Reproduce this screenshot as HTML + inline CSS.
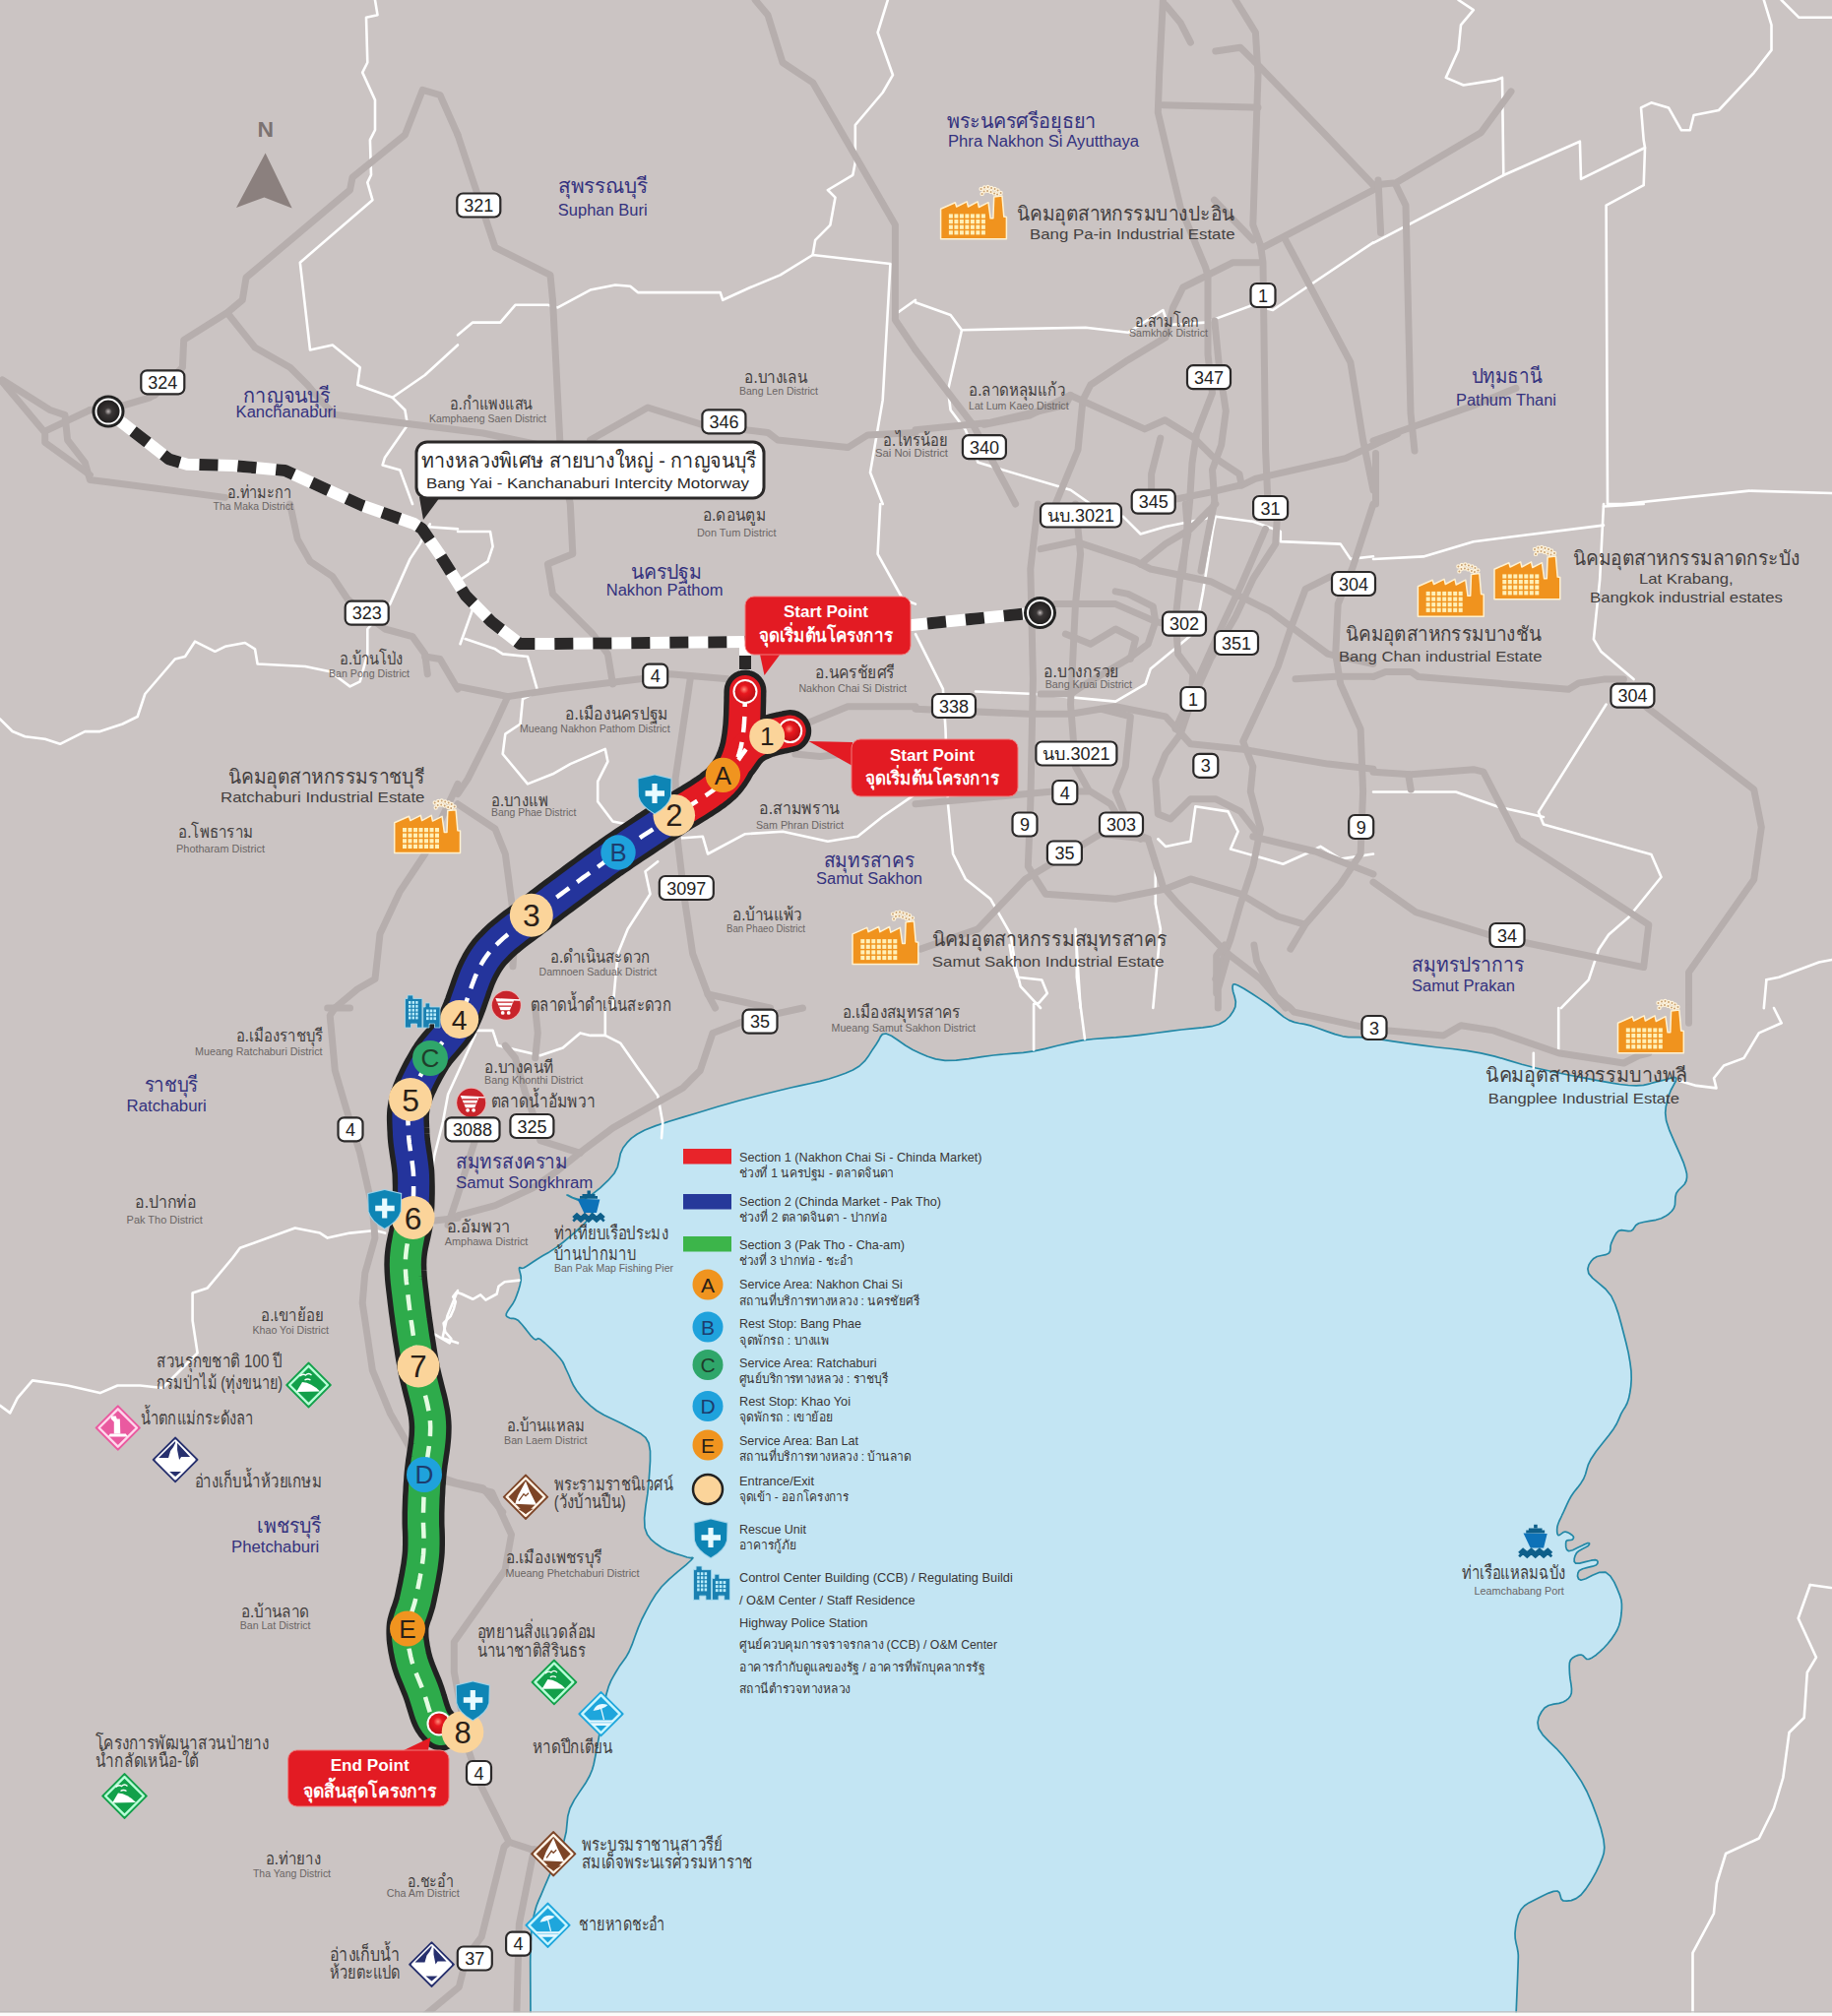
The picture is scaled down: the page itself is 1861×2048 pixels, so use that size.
<!DOCTYPE html><html><head><meta charset="utf-8"><style>
html,body{margin:0;padding:0;background:#cbc4c3;}
svg{display:block;font-family:"Liberation Sans",sans-serif;}
</style></head><body>
<svg width="1861" height="2048" viewBox="0 0 1861 2048">
<defs>
<radialGradient id="rdot" cx="45%" cy="40%" r="60%"><stop offset="0" stop-color="#ff8a7a"/><stop offset="0.35" stop-color="#e8181e"/><stop offset="1" stop-color="#b80e14"/></radialGradient>
<radialGradient id="bdot" cx="50%" cy="50%" r="50%"><stop offset="0" stop-color="#bdb6b6"/><stop offset="0.3" stop-color="#3a3636"/><stop offset="1" stop-color="#1e1c1c"/></radialGradient>
</defs>
<rect width="1861" height="2048" fill="#cbc4c3"/>

<polygon points="539,2070 539,2048 539.0,2048.0 538.9,2034.1 538.8,2014.1 538.7,1992.9 539.0,1976.0 539.6,1964.8 540.4,1956.6 541.5,1949.8 543.0,1943.0 544.8,1936.5 547.0,1930.9 549.7,1924.8 553.0,1917.0 557.6,1906.4 563.2,1893.9 568.8,1881.3 573.0,1870.0 575.2,1860.8 576.0,1852.6 576.8,1844.9 579.0,1837.0 583.3,1828.6 588.9,1820.1 594.6,1811.8 599.0,1804.0 601.6,1797.7 603.1,1792.5 604.3,1786.5 606.0,1778.0 608.3,1765.1 610.8,1749.3 613.4,1733.6 616.0,1721.0 618.4,1712.8 620.8,1707.2 623.3,1702.7 626.0,1698.0 629.0,1693.1 632.3,1688.6 635.7,1683.8 639.0,1678.0 642.1,1670.7 645.1,1662.3 648.3,1653.6 652.0,1645.0 656.3,1636.6 660.9,1628.1 666.1,1619.8 672.0,1612.0 679.6,1604.3 688.5,1596.6 696.7,1589.9 702.0,1585.0 703.9,1582.7 703.5,1582.4 701.3,1582.7 698.0,1582.0 692.8,1580.2 685.8,1578.1 678.4,1575.4 672.0,1572.0 666.6,1568.3 661.6,1564.2 657.6,1559.1 655.0,1552.0 654.6,1542.2 655.9,1530.2 657.8,1517.7 659.0,1506.0 659.8,1495.0 660.5,1484.1 660.5,1474.2 659.0,1466.0 655.7,1460.3 651.1,1456.6 645.4,1453.5 639.0,1450.0 631.4,1445.9 622.5,1441.8 613.6,1437.5 606.0,1433.0 599.9,1428.2 594.6,1423.2 590.0,1418.1 586.0,1413.0 582.7,1407.8 580.2,1402.6 578.1,1397.5 576.0,1393.0 574.3,1389.4 573.1,1386.5 571.6,1383.5 569.0,1380.0 564.7,1375.2 559.1,1369.6 553.6,1364.5 549.3,1360.8 546.9,1359.7 545.5,1360.3 544.4,1361.0 542.3,1360.0 538.8,1356.3 534.6,1350.9 530.2,1345.5 526.6,1341.6 523.8,1339.9 521.4,1339.4 519.5,1339.4 517.8,1339.0 516.3,1338.2 515.0,1337.5 514.2,1336.4 514.3,1334.6 515.7,1331.9 518.0,1328.6 520.7,1324.8 523.0,1320.7 524.9,1315.9 526.8,1310.5 528.3,1305.2 529.2,1300.6 529.2,1296.7 528.4,1293.2 527.6,1290.3 527.4,1288.3 527.9,1287.6 528.7,1287.9 530.0,1288.4 532.0,1288.0 534.6,1286.5 537.7,1284.5 541.4,1282.0 546.0,1279.0 551.6,1275.6 558.0,1271.9 564.9,1267.4 572.0,1262.0 580.5,1254.9 590.2,1246.5 598.3,1238.1 602.0,1231.0 598.4,1225.3 589.8,1220.3 580.7,1216.4 576.0,1214.0 577.1,1214.2 581.5,1216.6 587.6,1218.6 594.0,1218.0 601.1,1213.6 609.6,1206.9 617.7,1199.2 624.0,1192.0 627.4,1185.3 629.0,1178.5 630.3,1171.9 633.0,1166.0 636.9,1160.9 641.3,1156.4 647.1,1152.2 655.0,1148.0 666.1,1143.6 679.6,1139.2 693.9,1134.9 707.0,1131.0 718.4,1127.5 729.0,1124.2 739.6,1121.2 751.0,1118.0 763.7,1114.7 777.3,1111.2 790.7,1108.0 803.0,1105.0 813.9,1102.6 823.8,1100.5 833.1,1098.4 842.0,1096.0 850.6,1093.2 858.9,1090.3 866.4,1087.0 873.0,1083.0 878.4,1077.9 882.8,1071.9 886.6,1065.9 890.0,1061.0 892.6,1056.8 894.4,1053.1 896.4,1050.6 900.0,1050.0 905.5,1052.3 912.2,1056.8 919.7,1062.0 927.3,1066.4 934.7,1069.9 942.3,1073.3 950.5,1075.9 960.0,1077.4 971.3,1077.2 984.1,1075.7 997.1,1073.7 1009.2,1072.0 1019.8,1071.0 1029.6,1070.2 1039.4,1069.3 1050.0,1067.8 1061.8,1065.4 1074.2,1062.3 1086.9,1059.3 1099.2,1056.9 1110.8,1055.5 1122.1,1054.6 1133.5,1053.9 1145.6,1052.8 1159.1,1051.3 1173.4,1049.5 1187.5,1047.7 1200.2,1046.0 1211.4,1044.8 1221.7,1043.9 1230.8,1042.7 1238.4,1040.5 1244.5,1037.0 1249.2,1032.5 1252.6,1027.6 1254.8,1022.8 1255.3,1017.7 1254.1,1012.3 1252.6,1007.4 1252.0,1003.7 1252.2,1001.4 1252.7,1000.0 1254.2,999.8 1257.5,1001.0 1263.5,1004.3 1271.5,1009.3 1280.1,1014.9 1287.6,1020.0 1293.6,1024.5 1299.0,1029.0 1304.1,1033.1 1309.4,1036.4 1314.6,1038.4 1319.6,1039.5 1325.0,1040.4 1331.2,1041.9 1338.8,1044.5 1347.4,1047.6 1356.1,1050.6 1364.0,1052.8 1369.9,1053.7 1374.7,1053.7 1380.3,1053.6 1388.5,1054.2 1400.5,1055.7 1415.1,1057.8 1430.7,1060.1 1445.9,1062.2 1460.5,1064.0 1475.2,1065.5 1489.9,1067.4 1504.4,1069.8 1518.4,1073.1 1532.1,1077.1 1545.9,1081.2 1560.4,1085.0 1576.4,1088.5 1593.3,1092.0 1609.7,1095.2 1624.0,1097.8 1635.6,1099.9 1645.4,1101.5 1654.1,1102.5 1662.1,1102.9 1669.6,1102.3 1676.2,1100.8 1682.2,1099.1 1687.5,1097.8 1692.6,1096.5 1697.2,1095.1 1700.8,1094.4 1702.8,1095.2 1702.4,1098.0 1700.1,1102.3 1697.3,1107.5 1695.2,1113.0 1693.7,1118.4 1692.3,1124.2 1691.7,1130.7 1692.6,1138.5 1696.0,1148.7 1701.2,1160.6 1706.5,1172.3 1710.4,1181.7 1712.4,1188.1 1713.5,1192.5 1713.6,1196.0 1713.0,1199.5 1711.2,1203.0 1708.2,1206.0 1705.1,1209.0 1702.8,1212.2 1701.9,1216.0 1701.7,1220.0 1701.5,1224.0 1700.3,1227.5 1698.1,1230.5 1695.2,1233.2 1691.7,1235.6 1687.5,1237.7 1682.1,1239.3 1675.7,1240.4 1669.5,1241.5 1664.6,1242.8 1661.7,1244.7 1660.2,1246.9 1658.9,1249.0 1657.0,1250.4 1654.1,1250.6 1650.6,1250.1 1647.2,1249.7 1644.3,1250.4 1641.9,1252.7 1639.9,1256.1 1638.1,1259.8 1636.7,1263.1 1636.0,1265.9 1635.9,1268.7 1635.5,1271.2 1634.1,1273.3 1630.9,1274.7 1626.7,1275.5 1622.3,1276.5 1618.9,1278.4 1616.3,1281.3 1614.0,1284.9 1612.9,1289.0 1613.8,1293.6 1617.8,1298.4 1624.1,1303.6 1631.0,1309.5 1636.7,1316.5 1640.7,1325.0 1644.0,1334.6 1646.8,1344.8 1649.4,1354.7 1651.9,1364.5 1654.2,1374.4 1655.9,1384.1 1657.0,1392.9 1657.2,1400.9 1656.7,1408.3 1655.7,1415.0 1654.5,1420.8 1652.9,1425.5 1651.0,1429.2 1648.8,1432.6 1646.8,1436.1 1645.3,1439.6 1643.9,1442.8 1642.2,1446.5 1639.2,1451.4 1634.2,1458.2 1627.8,1466.3 1621.3,1474.6 1616.3,1481.9 1613.4,1487.8 1611.9,1492.8 1610.6,1497.5 1608.7,1502.2 1605.8,1506.9 1602.4,1511.4 1598.9,1515.7 1596.0,1520.0 1593.6,1524.4 1591.5,1528.9 1589.7,1532.9 1588.3,1536.0 1587.5,1537.7 1587.1,1538.3 1586.9,1538.8 1586.4,1540.0 1585.4,1542.2 1584.0,1545.0 1582.8,1548.0 1582.0,1550.7 1581.7,1553.3 1581.7,1556.0 1582.1,1558.3 1582.9,1559.6 1584.2,1559.4 1586.0,1558.1 1588.0,1556.6 1590.0,1556.0 1592.1,1556.6 1594.5,1557.8 1596.6,1559.2 1598.0,1560.5 1598.5,1561.5 1598.4,1562.5 1597.9,1563.3 1597.1,1564.1 1595.7,1564.5 1593.8,1564.6 1591.9,1564.9 1590.9,1565.9 1590.6,1568.2 1590.7,1571.4 1591.6,1574.3 1593.6,1575.7 1597.6,1574.7 1603.1,1572.1 1608.5,1569.4 1612.3,1567.7 1614.1,1567.5 1614.6,1568.1 1614.3,1569.2 1613.2,1570.4 1610.9,1571.8 1607.5,1573.5 1604.0,1575.4 1601.6,1577.5 1600.1,1580.3 1599.2,1583.5 1599.2,1586.4 1600.7,1588.2 1604.6,1588.1 1610.4,1586.7 1616.3,1585.2 1620.4,1584.6 1622.4,1585.3 1623.1,1586.7 1622.8,1588.4 1621.3,1590.0 1617.9,1591.2 1612.7,1592.4 1607.7,1593.7 1604.3,1595.4 1602.9,1598.0 1602.5,1601.1 1603.5,1603.9 1606.0,1605.2 1610.9,1603.7 1617.7,1600.3 1624.9,1597.3 1631.0,1597.1 1635.6,1600.8 1639.7,1607.1 1642.9,1614.2 1645.4,1620.4 1646.9,1625.2 1647.4,1629.6 1647.4,1633.9 1647.1,1638.2 1646.6,1642.6 1645.8,1647.1 1644.6,1651.5 1642.7,1656.0 1640.0,1660.6 1636.7,1665.4 1633.0,1670.0 1629.3,1674.0 1625.5,1677.7 1621.4,1681.2 1617.4,1683.9 1614.1,1685.5 1611.6,1685.3 1609.8,1683.6 1608.0,1681.8 1606.0,1681.0 1603.3,1681.4 1600.3,1682.5 1597.4,1684.2 1595.4,1686.4 1594.4,1689.2 1594.2,1692.7 1594.3,1696.6 1594.5,1700.7 1595.0,1705.4 1595.9,1710.7 1596.5,1715.8 1596.3,1720.0 1595.2,1723.0 1593.4,1725.3 1591.1,1727.2 1588.0,1729.0 1583.7,1730.4 1578.4,1731.2 1573.1,1732.5 1569.0,1735.0 1565.9,1739.0 1563.2,1744.1 1562.0,1749.9 1563.0,1756.0 1567.1,1762.3 1573.6,1769.1 1581.1,1776.3 1588.0,1784.0 1594.2,1792.1 1600.5,1800.7 1606.5,1809.9 1612.0,1820.0 1617.2,1831.9 1622.2,1845.2 1626.4,1858.1 1629.0,1869.0 1629.8,1876.8 1629.2,1882.6 1627.5,1887.9 1625.0,1894.0 1621.3,1901.9 1616.4,1910.7 1611.0,1918.9 1606.0,1925.0 1601.1,1928.6 1596.2,1930.6 1591.6,1931.2 1588.0,1931.0 1586.0,1929.2 1585.1,1925.9 1584.1,1922.7 1582.0,1921.0 1578.1,1921.4 1573.2,1923.1 1568.0,1925.5 1563.0,1928.0 1558.1,1930.4 1553.2,1932.9 1548.6,1936.0 1545.0,1940.0 1542.4,1945.3 1540.7,1951.6 1539.6,1958.1 1539.0,1964.0 1539.2,1969.2 1540.1,1974.1 1541.2,1978.6 1542.0,1983.0 1542.3,1986.2 1542.3,1988.6 1542.2,1991.9 1542.0,1998.0 1541.6,2009.2 1541.0,2023.9 1540.4,2038.2 1540,2048 1540,2070" fill="#c3e5f3" stroke="#2388a6" stroke-width="1.7" stroke-linejoin="round"/>
<g fill="none" stroke="#fff" stroke-width="2.6" stroke-linejoin="round" stroke-linecap="round"><polyline points="381,0 383.5,15.2 372,17.8 373.3,63.5 368.2,73.6 381,101.6 381,132 375.9,142.2 377,177.8 373.3,185.4 378.4,203.2 304.8,266.7 315,355.5 337.8,350.5 365.7,373.3 363.2,391 398.7,403.8 411.4,416.5 414,431.7 391,464.7 388.6,472.4 406.3,477.5 419,512"/>
<polyline points="398.7,403.8 431.7,381 465,350.5"/>
<polyline points="465,340.3 480.2,327.6 508.2,327.6 523.4,309.8 556.4,309.8 566.6,312.4 599.6,294.6 625,289.5 640.2,290.8 647.9,297.1 731.7,297.1 734.2,304.8 762.1,292 792.6,279.4 825.6,259 904.4,268"/>
<polyline points="825.6,259 828.2,243.8 843.4,228.6 848.5,200.6 840.9,193 866.3,177.8 868.8,165 868.8,127 896.7,94 907,76.2 891.6,33 901.8,0"/>
<polyline points="904.4,269 896.7,406.4 884,480 896.7,512"/>
<polyline points="912,317.5 930,304.8"/>
<polyline points="930,307.3 965.6,320 977,335.2 1102.7,332.7 1145.9,337.8 1181.4,315 1186.5,330 1224.6,327.6 1272.8,309.8 1293,315 1395,246.3"/>
<polyline points="977,335.2 963,396.2 965.6,416.5 980.8,436.8 993.5,469.8 1087.5,497.8 1107.8,512"/>
<polyline points="1395,246.8 1527.3,178 1604.9,143.7 1606,181.9 1671,150 1669.7,142.5 1667,109.4 1677.4,104.3 1695,109.4 1708,132.3 1716.8,132.3 1720.6,117 1746,112 1781.7,73.8 1799.5,50.9 1799.5,25.4 1791.8,0"/>
<polyline points="1671,150 1669.7,188.2 1631.6,208.6 1633,512"/>
<polyline points="1527.3,178 1526,78.9 1519.6,81.4 1486.6,86.5 1468.8,78.9 1481.5,50.9 1484,25.4 1496.8,10.2 1481.5,0"/>
<polyline points="1809.6,0 1827.5,17.8 1861,17.8"/>
<polyline points="1633,512 1649.4,512 1776.6,498.6 1861,501"/>
<polyline points="0,730.4 12.7,743 25.4,748.2 45.7,750.7 61,755.8 86.3,743.1 101.6,743.1 124.4,735.5 139.7,728 147.3,705 177.8,669.5 188,667 198,651.7 218.4,661.8 228.6,656.8 248.9,653 259,659.3 261.6,674.5 310,677 335.2,682.2 355.5,697.4 365.7,692.3 373.3,664.4 373.3,639 396.2,613.6 416.5,567.9 426.6,552.6 436.8,532.3"/>
<polyline points="431.7,535 465,537.4"/>
<polyline points="465,540 498,540 500.6,555.2 495.5,570.4 465,590.7"/>
<polyline points="480.2,618.7 467.5,654.2"/>
<polyline points="472.6,649 503,659.3 510.7,664.4 536,667 541.2,684.7 546.3,702.5 531,710 528.5,735.5 513.3,745.6 510.7,766 536,796.4 561.5,786.3 579.3,776.1 614.8,760.9 617.4,773.6 607.2,793.9 607.2,814.2 622.5,834.5 647.9,839.6 658,832"/>
<polyline points="680.9,852.3 713.9,849.8 719,867.5 757,847.2 795.2,844.7 840.9,854.8 871.3,849.8 896.7,829.5 930,806.6"/>
<polyline points="668.2,875.2 655.5,885.3 660.5,908.2 637.7,943.7 627.5,969.1 622.5,1024"/>
<polyline points="894.2,512 891.6,562.8 917,608.5 930,613.6"/>
<polyline points="930.0,644.1 957.9,699.9 960.5,740.6 963.0,816.8 968.1,867.5 980.8,892.9 1006.2,913.3 1026.5,948.8 1031.6,981.8 1036.7,1002.1 1057.0,1024.0"/>
<polyline points="991.0,702.5 1051.9,705.0 1133.2,712.6 1163.6,694.9 1168.7,679.6 1199.2,654.2 1214.4,641.5 1222.1,600.9 1232.2,537.4 1234.8,524.7 1272.8,529.8 1300.8,539.9 1300.8,550.1 1361.7,552.6 1371.9,567.9 1395.0,565.3"/>
<polyline points="1140.8,524.7 1158.6,542.5 1184.0,534.9 1234.8,524.7"/>
<polyline points="1176.3,852.3 1184.0,859.9 1209.4,854.8 1214.4,819.3 1247.5,824.4 1257.6,844.7 1250.0,862.5 1285.5,872.6 1303.3,877.7 1326.2,867.5 1341.4,859.9 1361.7,872.6 1395.0,867.5"/>
<polyline points="1173.8,872.6 1173.8,918.3 1178.9,943.7 1171.3,1024.0"/>
<polyline points="1092.5,943.7 1097.6,1024.0"/>
<polyline points="1395.0,568.0 1445.9,565.4 1496.8,550.2 1629.0,533.6"/>
<polyline points="1629.0,512.0 1625.2,588.3 1618.9,649.4 1626.5,662.1 1659.6,690.1"/>
<polyline points="1631.6,715.5 1562.9,824.9 1568.0,837.6 1677.4,868.1 1687.5,891.0 1654.5,931.7 1634.1,949.5 1623.9,964.8 1613.8,995.3 1585.8,1024.1"/>
<polyline points="1568.0,830.0 1522.2,819.8 1478.9,804.5 1395.0,804.5"/>
<polyline points="1629.0,514.5 1669.7,512.0"/>
<polyline points="1794.4,995.3 1807.1,992.8 1847.8,977.5 1861.0,975.0"/>
<polyline points="1794.4,995.3 1791.8,1024.1"/>
<polyline points="0.0,1427.8 10.2,1435.4 17.8,1420.2 33.0,1402.4 68.6,1407.5 101.6,1415.1 119.4,1407.5 142.2,1407.5 165.1,1410.0 200.6,1374.5 195.6,1341.5 195.6,1313.5 210.8,1308.4 236.2,1278.0 243.8,1267.8 299.7,1247.5 325.1,1252.6 332.7,1257.6 355.5,1252.6 380.9,1250.0 391.1,1252.6"/>
<polyline points="465.0,1311.0 454.6,1336.4 449.5,1359.2 465.0,1364.3"/>
<polyline points="480.2,1046.9 500.6,1046.9 505.6,1062.1 548.8,1072.3 571.7,1064.6 589.4,1049.4 599.6,1051.9 614.8,1051.9 614.8,1024.0"/>
<polyline points="614.8,1051.9 630.1,1059.6 647.9,1085.0 668.2,1112.9 673.2,1140.8 672.0,1156.1"/>
<polyline points="1025.5,960.0 1028.3,976.4 1033.7,992.8 1058.3,995.5 1063.8,1009.1 1055.6,1018.7 1050.1,1020.0 1050.1,1066.4"/>
<polyline points="1093.8,960.0 1093.8,992.8 1102.0,1055.5"/>
<polyline points="1583.2,1024.0 1583.2,1069.8"/>
<polyline points="1557.8,1069.8 1557.8,1085.1"/>
<polyline points="1802.0,1024.0 1809.7,1039.3 1786.8,1049.4 1771.5,1074.9 1751.1,1082.5 1741.0,1095.2 1743.5,1105.4 1723.2,1102.9 1705.4,1097.8"/>
<polyline points="483,1050.7 455.1,1111.8 449.9,1139.7 441.1,1174.7 435.9,1209.6 432.4,1244.5"/>
<polyline points="1838.8,1610 1860,1613"/>
<polyline points="1838.8,1610 1826.7,1644 1845,1683.7 1835.8,1699 1832.7,1745 1817.5,1760 1811.3,1806 1802,1837 1786.9,1867.5 1753.1,1883 1743.9,1913 1740.9,1944 1719.5,1983.8 1719.5,2048"/>
<polyline points="441.8,1355.6 456.7,1364.3 458.4,1360 452.3,1353 450.6,1344.2 457.6,1337.2 461,1329.4 462.8,1322.4 460.2,1317.2 463.7,1312.8 469,1314.5 480.3,1319.8 488.1,1315.4 493.4,1320.7 504.7,1314.5 506.5,1306.7 512.6,1302.3 527.4,1300.6"/></g>
<g fill="none" stroke="#b6aead" stroke-width="7" stroke-linejoin="round" stroke-linecap="round"><polyline points="157.5,401 185.4,373.3 186.7,345.4 231,317.5 246.3,304.8 250,282 355.5,193 358,180.3 411.4,137 429.2,91.4 447,96.5 465,137"/>
<polyline points="231,318 259,353 294.6,373.3 312.4,391 325,406 340,421.6"/>
<polyline points="91.4,416.5 48.3,436.8"/>
<polyline points="91.4,416.5 127,411.4 152.4,403.8 157.5,401"/>
<polyline points="2.5,386 50.8,416.5 66,421.6 68.6,447 86.3,469.8 91.4,487.6 111.7,490 228.6,505.4"/>
<polyline points="2.5,388 45.7,439.4 45.7,449.5 91.4,482.5"/>
<polyline points="338,421 490.7,440 555,453.5"/>
<polyline points="465,137 503,251.4 559,279.4 561.5,304.8 569,452 571,470"/>
<polyline points="767.2,0 780,15.2 795,63.5 825.6,83.8 909.4,228.6 909.4,325 930,355.5"/>
<polyline points="599.6,447 658,414 713.9,431.7 780,439.4 790,447 861.2,454.6 881.5,441.9 930,439.4"/>
<polyline points="930,355.5 988.4,431.7 1021.4,492.7 1031.6,512"/>
<polyline points="1255,0 1275.4,33 1278,76.2 1272.8,228.6 1280.5,248.9 1283,266.7 1285.6,457 1288,512"/>
<polyline points="1184,5 1199,22.9 1209.4,43.2"/>
<polyline points="1234.8,52 1260,48.3 1280.5,68.6 1346.5,137 1395,188"/>
<polyline points="1181.4,106.7 1278,109.2"/>
<polyline points="1283,251.4 1395,193"/>
<polyline points="1305.9,243.8 1371.9,368.2 1384.6,447 1395,497.8"/>
<polyline points="1278,266.7 1252.5,266.7 1201.7,292 1191.6,312.4 1184,342.8 1145.9,365.7 1107.8,391 1100,406.4 1095,457 1072.2,512"/>
<polyline points="1233.5,203.2 1272.8,243.8"/>
<polyline points="930,436.8 1006.2,429.2 1082.4,411.4 1087.5,401.3"/>
<polyline points="1395,188 1418,185.7 1504.4,134.8 1535,92.9"/>
<polyline points="1400,183 1402.6,236.6"/>
<polyline points="1418,188 1428,208.6 1433,419.7 1437,458"/>
<polyline points="1395,447.7 1496.8,412 1540,394.3"/>
<polyline points="1397.5,460.5 1397.5,512"/>
<polyline points="294.6,512 302.2,547.6 315,570.4 337.8,585.6 353,608.5 372,625 391,639 419,646.6 431.7,664.4 434.3,684.7"/>
<polyline points="431.7,667 447,669.5 465,700"/>
<polyline points="465,796.4 431.7,867.5 406.3,905.6 386,948.8 381,994.5 363.2,1004.7 348,1017.4 340.3,1024"/>
<polyline points="571,470 579.3,512 581.8,562.8 556.4,573 561.5,603.4 602.1,644 617.4,664.4 622.5,694.9"/>
<polyline points="465,697.4 515.8,707.6 566.6,700 650.4,689.8 680.9,684.7 739.3,689.8"/>
<polyline points="701.2,689.8 693.6,740.6 686,791.4 688.5,854.8 696.1,918.3 703.7,969.1 719,1009.8 726.6,1024"/>
<polyline points="515.8,707.6 500.6,740.6 475.2,791.4 465,806.6"/>
<polyline points="818,735.5 861.2,717.7 930,717.7"/>
<polyline points="807.8,766 833.2,768.5 856,766"/>
<polyline points="465,816.8 503,842 513.3,867.5 523.4,943.7 521,981.8"/>
<polyline points="896.7,969 930,964"/>
<polyline points="719,1010 782.5,1024"/>
<polyline points="1054.4,512.0 1046.8,578.0 1049.4,689.8 1046.8,816.8 1044.3,880.2 1062.1,908.2 1133.2,913.3 1184.0,903.1 1209.4,892.9 1260.2,908.2 1298.2,931.0 1323.6,938.7"/>
<polyline points="1057.0,557.7 1092.5,550.1 1153.5,570.4 1168.7,578.0 1229.7,590.7 1290.6,621.2 1349.0,664.4 1395.0,674.5"/>
<polyline points="1092.5,512.0 1097.6,562.8 1092.5,613.6 1090.0,664.4 1087.5,715.2 1092.5,778.7 1105.2,801.5"/>
<polyline points="1072.2,613.6 1133.2,613.6 1173.8,631.4 1184.0,633.9"/>
<polyline points="1133.2,600.9 1145.9,603.4 1171.3,616.1 1173.8,631.4 1166.2,654.2 1145.9,669.5 1102.7,694.9 1087.5,705.0 1057.0,705.0"/>
<polyline points="1082.4,644.1 1107.8,654.2 1133.2,639.0 1153.5,649.1 1148.4,669.5"/>
<polyline points="1158.6,573.0 1184.0,552.6 1209.4,537.4 1234.8,512.0"/>
<polyline points="1204.3,512.0 1206.8,542.5 1199.2,583.1 1194.1,628.8 1196.7,664.4 1211.9,684.7 1209.4,715.2 1199.2,745.6 1184.0,766.0 1173.8,791.4 1176.3,826.9 1189.0,832.0 1209.4,811.7 1234.8,811.7 1260.2,824.4 1277.9,847.2"/>
<polyline points="1298.2,512.0 1295.7,552.6 1272.8,588.2 1255.1,626.3 1229.7,669.5 1209.4,715.2 1199.2,740.6"/>
<polyline points="1285.5,537.4 1260.2,595.8 1239.8,639.0 1217.0,689.8 1194.1,740.6"/>
<polyline points="1351.6,585.6 1326.2,598.3 1310.9,639.0 1298.2,677.1 1280.5,715.2 1262.7,753.3 1272.8,778.7 1270.3,804.1 1280.5,842.2 1272.8,880.2 1260.2,918.3 1250.0,953.9 1234.8,994.5"/>
<polyline points="1395.0,512.0 1374.4,575.5 1359.2,613.6 1356.7,664.4 1361.7,694.9 1382.1,740.6 1384.6,804.1 1382.1,867.5 1361.7,898.0 1326.2,938.7 1310.9,964.1"/>
<polyline points="930.0,720.2 1044.3,725.3 1087.5,725.3 1133.2,717.7 1184.0,727.9 1209.4,755.8 1260.2,760.9 1349.0,776.1 1395.0,781.2"/>
<polyline points="1117.9,720.2 1148.4,727.9 1143.3,778.7 1133.2,804.1 1143.3,829.5 1158.6,852.3"/>
<polyline points="930.0,816.8 1069.7,804.1 1107.8,804.1 1128.1,816.8 1143.3,842.2 1166.2,852.3 1181.4,900.6 1196.7,918.3 1247.5,969.1 1280.5,994.5 1305.9,1024.0"/>
<polyline points="993.5,943.7 1041.7,892.9 1117.9,847.2 1166.2,852.3"/>
<polyline points="1272.8,849.8 1336.3,865.0 1395.0,887.9"/>
<polyline points="1247.5,969.1 1237.3,1004.7 1237.3,1024.0"/>
<polyline points="1316.0,689.8 1356.7,687.2 1395.0,687.2"/>
<polyline points="935.1,964.1 993.5,943.7"/>
<polyline points="1395.0,687.5 1407.7,682.4 1433.2,682.4 1440.8,687.5 1593.4,700.2 1603.6,693.9 1629.0,690.1 1649.4,690.1"/>
<polyline points="1672.3,718.1 1781.7,802.0 1789.3,840.2 1781.7,893.6 1715.5,987.7 1715.5,1024.1"/>
<polyline points="1395.0,784.2 1433.2,786.7 1496.8,781.7 1506.9,784.2 1542.5,852.9 1674.8,939.4 1669.7,982.6 1547.6,957.2 1512.0,949.5 1438.2,926.7 1395.0,896.1"/>
<polyline points="1430.6,786.7 1433.2,802.0"/>
<polyline points="340.3,1024.0 335.2,1031.6 340.3,1087.5 353.0,1130.7 365.7,1171.3 378.4,1227.2 380.9,1257.6 370.8,1293.2 368.2,1323.7 378.4,1392.2 396.2,1435.4 416.5,1471.0 421.6,1481.1 431.7,1493.8"/>
<polyline points="332.7,1024.0 355.5,1024.0"/>
<polyline points="441.9,1239.9 465.0,1237.3"/>
<polyline points="441.9,1498.9 465.0,1506.5"/>
<polyline points="815.5,1024.0 757.1,1036.7 724.0,1049.4 711.3,1087.5 693.6,1105.3 622.5,1145.9 592.0,1168.8 566.6,1189.1 541.2,1206.9 503.1,1224.6 465.0,1234.8"/>
<polyline points="543.7,1024.0 546.3,1049.4 543.7,1074.8"/>
<polyline points="513.3,1062.1 523.4,1074.8 533.6,1110.3 541.2,1130.7 548.8,1158.6 589.4,1171.3"/>
<polyline points="465.0,1506.5 490.4,1511.6 510.7,1536.0"/>
<polyline points="1243.9,960.0 1235.7,970.9 1235.7,1009.1"/>
<polyline points="1273.9,960.0 1276.6,976.4 1295.7,1011.9 1309.4,1022.8 1314.8,1028.2 1377.6,1041.9 1391.3,1044.6"/>
<polyline points="1410.3,1046.9 1466.2,1052.0 1484.0,1041.8 1517.1,1046.9 1583.2,1069.8 1649.4,1080.0 1664.7,1072.3 1674.8,1069.8"/>
<polyline points="1715.5,1024.0 1715.5,1039.3"/>
<polyline points="441.9,1498.9 450,1504 499.6,1515.8 519.5,1559 513,1595 461.3,1668 461.3,1698.5 476.5,1779.8 486.7,1810.3 517.1,1871.2 540,1878.9 560,1879"/>
<polyline points="517.1,1871.2 512,1876.3 489.2,1967.7 474,1988 466.3,2018.5 430.8,2048"/>
<polyline points="542.5,1878.9 527.3,1955 524.8,2048"/>
<polyline points="483,1157 463.8,1218 455,1244.5"/>
<polyline points="1181.4,0 1177.6,76.2 1176.3,114.3 1186.5,157.5 1199.2,210.8 1224.6,271.7 1227,280 1227,360.2 1231.5,399.2 1215.5,440.5 1211,470.3 1208.6,509.3 1201.7,580"/>
<polyline points="1233.8,325.9 1238.4,371.7 1245.3,417.6 1240.7,452 1231.5,477.2 1233.8,509.3 1224.7,555.1 1220,580"/>
<polyline points="1000,431.3 1045.9,422.1 1087.1,401.5 1137.6,424.4 1162.8,435.9 1183.4,426.7 1213.2,445.1 1231.5,463.4 1259,481.7 1261.3,493.2 1275.1,486.3 1366.8,465.7 1420,440.5"/>
<polyline points="1259,493.2 1229.3,500.1 1194.9,507"/>
<polyline points="1178.8,445.1 1169.6,481.7 1169.6,497.8"/></g>
<polyline points="110,418 124.5,429.8 148,448 171.7,466.5 190,471.7 237,473 289.6,478 315.8,490 368,513.6 420.6,532 428.5,537 446.8,563.4 473,605 499,631.5 528,654 560,654 757,652" fill="none" stroke="#fff" stroke-width="12" stroke-linejoin="round"/>
<polyline points="110,418 124.5,429.8 148,448 171.7,466.5 190,471.7 237,473 289.6,478 315.8,490 368,513.6 420.6,532 428.5,537 446.8,563.4 473,605 499,631.5 528,654 560,654 757,652" fill="none" stroke="#2a2828" stroke-width="12" stroke-dasharray="19 20" stroke-dashoffset="-32" stroke-linejoin="round"/>
<polyline points="757,652 1056,622" fill="none" stroke="#fff" stroke-width="12"/>
<polyline points="757,652 1056,622" fill="none" stroke="#2a2828" stroke-width="12" stroke-dasharray="19 20" stroke-dashoffset="-30"/>
<polyline points="757,652 757,690" fill="none" stroke="#fff" stroke-width="12"/>
<polyline points="757,652 757,690" fill="none" stroke="#2a2828" stroke-width="12" stroke-dasharray="14 20" stroke-dashoffset="-14"/>
<circle cx="110" cy="418" r="16.5" fill="#222"/><circle cx="110" cy="418" r="12.5" fill="url(#bdot)" stroke="#fff" stroke-width="2"/>
<circle cx="1056.5" cy="622.5" r="16.5" fill="#222"/><circle cx="1056.5" cy="622.5" r="12.5" fill="url(#bdot)" stroke="#fff" stroke-width="2"/>
<g fill="none" stroke-linecap="round" stroke-linejoin="round">
<polyline points="757.0,702.0 756.9,703.9 756.9,706.2 756.8,709.1 756.8,712.2 756.7,715.6 756.6,719.2 756.5,723.0 756.4,726.7 756.2,730.3 756.0,733.8 755.8,737.1 755.5,740.0 755.2,742.7 754.9,745.3 754.6,747.8 754.2,750.3 753.8,752.7 753.4,755.0 753.0,757.3 752.5,759.5 751.9,761.7 751.3,763.8 750.7,765.9 750.0,768.0 749.2,770.1 748.4,772.1 747.6,774.1 746.7,776.0 745.8,777.9 744.8,779.8 743.8,781.6 742.7,783.3 741.6,785.1 740.4,786.8 739.2,788.4 738.0,790.0 736.8,791.5 735.5,792.9 734.3,794.3 733.1,795.6 731.8,796.8 730.4,798.0 729.0,799.2 727.5,800.4 725.8,801.7 724.1,803.1 722.1,804.5 720.0,806.0 717.7,807.6 715.4,809.1 713.0,810.7 710.4,812.3 707.7,813.9 704.9,815.6 702.0,817.4 698.9,819.3 695.7,821.2 692.3,823.3 688.7,825.6 685.0,828.0 681.0,830.6 676.6,833.5 672.0,836.5 667.1,839.7 662.1,843.1 657.0,846.4 651.9,849.9 646.8,853.3 641.8,856.6 636.9,859.9 632.3,863.0 628.0,866.0 623.9,868.8 620.0,871.5 616.3,874.2 612.7,876.7 609.2,879.3 605.8,881.8 602.3,884.2 599.0,886.7 595.6,889.2 592.1,891.7 588.6,894.3 585.0,897.0 581.3,899.8 577.5,902.6 573.6,905.5 569.7,908.4 565.8,911.3 561.9,914.2 558.1,917.2 554.3,920.1 550.5,922.9 546.9,925.7 543.4,928.4 540.0,931.0 536.7,933.5 533.5,935.9 530.4,938.2 527.3,940.5 524.3,942.7 521.4,944.9 518.6,947.1 515.9,949.3 513.3,951.4 510.7,953.6 508.3,955.8 506.0,958.0 503.8,960.2 501.9,962.2 500.0,964.1 498.3,966.0 496.7,967.9 495.2,969.9 493.7,971.9 492.2,974.1 490.7,976.4 489.2,979.0 487.7,981.8 486.0,985.0 484.3,988.6 482.6,992.5 481.0,996.8 479.3,1001.3 477.7,1006.1 476.0,1010.9 474.3,1015.7 472.6,1020.6 470.8,1025.3 468.9,1029.8 467.0,1034.1 465.0,1038.0 462.9,1041.6 460.6,1045.0 458.3,1048.3 455.9,1051.3 453.4,1054.3 450.9,1057.2 448.5,1060.0 446.0,1062.9 443.6,1065.8 441.3,1068.7 439.1,1071.8 437.0,1075.0 435.0,1078.3 433.0,1081.8 431.0,1085.3 429.1,1088.9 427.2,1092.5 425.4,1096.1 423.7,1099.7 422.0,1103.3 420.5,1106.9 419.2,1110.3 418.0,1113.7 417.0,1117.0 416.2,1120.1 415.5,1123.2 415.1,1126.1 414.7,1128.9 414.5,1131.7 414.4,1134.5 414.4,1137.3 414.5,1140.1 414.6,1142.9 414.7,1145.8 414.9,1148.9 415.0,1152.0 415.2,1155.2 415.5,1158.6 415.9,1162.0 416.4,1165.4 416.9,1168.9 417.4,1172.4 418.0,1176.0 418.5,1179.6 419.0,1183.2 419.4,1186.8 419.8,1190.4 420.0,1194.0 420.1,1197.6 420.2,1201.3 420.3,1205.0 420.3,1208.7 420.3,1212.4 420.2,1216.1 420.1,1219.8 420.0,1223.6 419.8,1227.2 419.6,1230.9 419.3,1234.5 419.0,1238.0 418.6,1241.5 418.1,1244.9 417.4,1248.2 416.7,1251.5 416.0,1254.8 415.2,1258.1 414.5,1261.3 413.8,1264.6 413.2,1267.9 412.7,1271.2 412.3,1274.6 412.0,1278.0 411.9,1281.4 411.8,1284.7 411.9,1288.0 412.0,1291.2 412.2,1294.5 412.4,1297.8 412.7,1301.2 413.1,1304.8 413.5,1308.5 414.0,1312.4 414.5,1316.6 415.0,1321.0 415.6,1325.8 416.2,1330.9 417.0,1336.3 417.7,1341.9 418.6,1347.7 419.4,1353.6 420.3,1359.6 421.3,1365.5 422.2,1371.4 423.1,1377.1 424.1,1382.7 425.0,1388.0 426.0,1393.1 427.1,1398.1 428.3,1403.0 429.5,1407.9 430.7,1412.7 431.9,1417.4 433.1,1422.0 434.2,1426.7 435.1,1431.3 436.0,1435.8 436.6,1440.4 437.0,1445.0 437.2,1449.6 437.1,1454.2 436.9,1458.9 436.5,1463.5 436.0,1468.1 435.4,1472.6 434.7,1477.1 434.1,1481.5 433.4,1485.8 432.9,1490.0 432.4,1494.1 432.0,1498.0 431.7,1501.7 431.5,1505.3 431.2,1508.6 431.0,1511.9 430.9,1515.0 430.7,1518.1 430.5,1521.2 430.4,1524.2 430.3,1527.3 430.2,1530.4 430.1,1533.7 430.0,1537.0 430.0,1540.4 430.0,1543.9 430.0,1547.4 430.1,1551.0 430.3,1554.5 430.4,1558.1 430.5,1561.7 430.5,1565.4 430.5,1569.0 430.4,1572.7 430.3,1576.3 430.0,1580.0 429.6,1583.7 429.1,1587.6 428.6,1591.5 427.9,1595.4 427.2,1599.4 426.5,1603.4 425.7,1607.3 425.0,1611.1 424.2,1614.8 423.4,1618.4 422.7,1621.8 422.0,1625.0 421.3,1628.0 420.5,1630.7 419.7,1633.3 418.9,1635.7 418.1,1638.1 417.2,1640.3 416.5,1642.5 415.8,1644.7 415.2,1646.9 414.6,1649.2 414.2,1651.5 414.0,1654.0 413.9,1656.6 413.9,1659.2 414.0,1661.8 414.1,1664.4 414.4,1667.1 414.8,1669.8 415.2,1672.5 415.6,1675.2 416.2,1677.9 416.7,1680.6 417.3,1683.3 418.0,1686.0 418.7,1688.7 419.6,1691.4 420.5,1694.1 421.5,1696.9 422.6,1699.6 423.7,1702.3 424.8,1705.0 425.9,1707.7 427.0,1710.4 428.1,1713.0 429.1,1715.5 430.0,1718.0 430.9,1720.5 431.7,1723.0 432.5,1725.5 433.2,1727.9 434.0,1730.4 434.7,1732.8 435.4,1735.1 436.1,1737.3 436.8,1739.4 437.5,1741.4 438.3,1743.3 439.0,1745.0 439.8,1746.6 440.6,1748.0 441.5,1749.3 442.3,1750.6 443.2,1751.7 444.1,1752.7 444.9,1753.6 445.7,1754.4 446.4,1755.2 447.0,1755.9 447.6,1756.5 448,1757" stroke="#222" stroke-width="43"/>
<polyline points="802.7,742.6 801.6,742.8 800.2,743.1 798.5,743.5 796.6,743.9 794.6,744.3 792.5,744.7 790.3,745.2 788.1,745.7 785.9,746.3 783.8,746.8 781.8,747.4 780.0,748.0 778.3,748.6 776.7,749.2 775.0,749.9 773.4,750.5 771.9,751.2 770.3,751.9 768.8,752.6 767.4,753.4 766.0,754.2 764.6,755.1 763.3,756.0 762.0,757.0 760.8,758.1 759.5,759.3 758.3,760.7 757.1,762.1 756.0,763.6 754.9,765.1 753.8,766.5 752.9,767.9 752.0,769.2 751.2,770.3 750.6,771.3 750,772" stroke="#222" stroke-width="43"/>
<polyline points="419.0,1238.0 418.6,1239.9 418.1,1242.3 417.5,1245.1 416.8,1248.3 416.1,1251.7 415.3,1255.3 414.6,1259.1 413.9,1263.0 413.2,1266.9 412.7,1270.7 412.3,1274.4 412.0,1278.0 411.9,1281.4 411.8,1284.7 411.9,1288.0 412.0,1291.2 412.2,1294.5 412.4,1297.8 412.7,1301.2 413.1,1304.8 413.5,1308.5 414.0,1312.4 414.5,1316.6 415.0,1321.0 415.6,1325.8 416.2,1330.9 417.0,1336.3 417.7,1341.9 418.6,1347.7 419.4,1353.6 420.3,1359.6 421.3,1365.5 422.2,1371.4 423.1,1377.1 424.1,1382.7 425.0,1388.0 426.0,1393.1 427.1,1398.1 428.3,1403.0 429.5,1407.9 430.7,1412.7 431.9,1417.4 433.1,1422.0 434.2,1426.7 435.1,1431.3 436.0,1435.8 436.6,1440.4 437.0,1445.0 437.2,1449.6 437.1,1454.2 436.9,1458.9 436.5,1463.5 436.0,1468.1 435.4,1472.6 434.7,1477.1 434.1,1481.5 433.4,1485.8 432.9,1490.0 432.4,1494.1 432.0,1498.0 431.7,1501.7 431.5,1505.3 431.2,1508.6 431.0,1511.9 430.9,1515.0 430.7,1518.1 430.5,1521.2 430.4,1524.2 430.3,1527.3 430.2,1530.4 430.1,1533.7 430.0,1537.0 430.0,1540.4 430.0,1543.9 430.0,1547.4 430.1,1551.0 430.3,1554.5 430.4,1558.1 430.5,1561.7 430.5,1565.4 430.5,1569.0 430.4,1572.7 430.3,1576.3 430.0,1580.0 429.6,1583.7 429.1,1587.6 428.6,1591.5 427.9,1595.4 427.2,1599.4 426.5,1603.4 425.7,1607.3 425.0,1611.1 424.2,1614.8 423.4,1618.4 422.7,1621.8 422.0,1625.0 421.3,1628.0 420.5,1630.7 419.7,1633.3 418.9,1635.7 418.1,1638.1 417.2,1640.3 416.5,1642.5 415.8,1644.7 415.2,1646.9 414.6,1649.2 414.2,1651.5 414.0,1654.0 413.9,1656.6 413.9,1659.2 414.0,1661.8 414.1,1664.4 414.4,1667.1 414.8,1669.8 415.2,1672.5 415.6,1675.2 416.2,1677.9 416.7,1680.6 417.3,1683.3 418.0,1686.0 418.7,1688.7 419.6,1691.4 420.5,1694.1 421.5,1696.9 422.6,1699.6 423.7,1702.3 424.8,1705.0 425.9,1707.7 427.0,1710.4 428.1,1713.0 429.1,1715.5 430.0,1718.0 430.9,1720.5 431.7,1723.0 432.5,1725.5 433.2,1727.9 434.0,1730.4 434.7,1732.8 435.4,1735.1 436.1,1737.3 436.8,1739.4 437.5,1741.4 438.3,1743.3 439.0,1745.0 439.8,1746.6 440.6,1748.0 441.5,1749.3 442.3,1750.6 443.2,1751.7 444.1,1752.7 444.9,1753.6 445.7,1754.4 446.4,1755.2 447.0,1755.9 447.6,1756.5 448,1757" stroke="#2eab4b" stroke-width="32"/>
<polyline points="685.0,828.0 682.2,829.9 678.6,832.2 674.4,835.0 669.7,838.1 664.6,841.5 659.2,845.1 653.6,848.7 648.1,852.4 642.6,856.1 637.3,859.6 632.4,863.0 628.0,866.0 623.9,868.8 620.0,871.5 616.3,874.2 612.7,876.7 609.2,879.3 605.8,881.8 602.3,884.2 599.0,886.7 595.6,889.2 592.1,891.7 588.6,894.3 585.0,897.0 581.3,899.8 577.5,902.6 573.6,905.5 569.7,908.4 565.8,911.3 561.9,914.2 558.1,917.2 554.3,920.1 550.5,922.9 546.9,925.7 543.4,928.4 540.0,931.0 536.7,933.5 533.5,935.9 530.4,938.2 527.3,940.5 524.3,942.7 521.4,944.9 518.6,947.1 515.9,949.3 513.3,951.4 510.7,953.6 508.3,955.8 506.0,958.0 503.8,960.2 501.9,962.2 500.0,964.1 498.3,966.0 496.7,967.9 495.2,969.9 493.7,971.9 492.2,974.1 490.7,976.4 489.2,979.0 487.7,981.8 486.0,985.0 484.3,988.6 482.6,992.5 481.0,996.8 479.3,1001.3 477.7,1006.1 476.0,1010.9 474.3,1015.7 472.6,1020.6 470.8,1025.3 468.9,1029.8 467.0,1034.1 465.0,1038.0 462.9,1041.6 460.6,1045.0 458.3,1048.3 455.9,1051.3 453.4,1054.3 450.9,1057.2 448.5,1060.0 446.0,1062.9 443.6,1065.8 441.3,1068.7 439.1,1071.8 437.0,1075.0 435.0,1078.3 433.0,1081.8 431.0,1085.3 429.1,1088.9 427.2,1092.5 425.4,1096.1 423.7,1099.7 422.0,1103.3 420.5,1106.9 419.2,1110.3 418.0,1113.7 417.0,1117.0 416.2,1120.1 415.5,1123.2 415.1,1126.1 414.7,1128.9 414.5,1131.7 414.4,1134.5 414.4,1137.3 414.5,1140.1 414.6,1142.9 414.7,1145.8 414.9,1148.9 415.0,1152.0 415.2,1155.2 415.5,1158.6 415.9,1162.0 416.4,1165.4 416.9,1168.9 417.4,1172.4 418.0,1176.0 418.5,1179.6 419.0,1183.2 419.4,1186.8 419.8,1190.4 420.0,1194.0 420.1,1197.7 420.2,1201.7 420.1,1205.9 420.1,1210.1 420.0,1214.4 419.8,1218.6 419.6,1222.7 419.5,1226.5 419.3,1230.0 419.2,1233.2 419.1,1235.9 419,1238" stroke="#24349c" stroke-width="32"/>
<polyline points="757.0,702.0 756.9,703.9 756.9,706.2 756.8,709.1 756.8,712.2 756.7,715.6 756.6,719.2 756.5,723.0 756.4,726.7 756.2,730.3 756.0,733.8 755.8,737.1 755.5,740.0 755.2,742.7 754.9,745.3 754.6,747.8 754.2,750.3 753.8,752.7 753.4,755.0 753.0,757.3 752.5,759.5 751.9,761.7 751.3,763.8 750.7,765.9 750.0,768.0 749.2,770.1 748.4,772.1 747.6,774.1 746.7,776.0 745.8,777.9 744.8,779.8 743.8,781.6 742.7,783.3 741.6,785.1 740.4,786.8 739.2,788.4 738.0,790.0 736.8,791.5 735.5,792.9 734.3,794.3 733.1,795.6 731.8,796.8 730.4,798.0 729.0,799.2 727.5,800.4 725.8,801.7 724.1,803.1 722.1,804.5 720.0,806.0 717.6,807.7 714.7,809.6 711.6,811.6 708.3,813.7 704.8,815.9 701.4,818.0 698.0,820.1 694.7,822.1 691.7,823.9 689.0,825.5 686.7,826.9 685,828" stroke="#e31b23" stroke-width="32"/>
<polyline points="802.7,742.6 801.6,742.8 800.2,743.1 798.5,743.5 796.6,743.9 794.6,744.3 792.5,744.7 790.3,745.2 788.1,745.7 785.9,746.3 783.8,746.8 781.8,747.4 780.0,748.0 778.3,748.6 776.7,749.2 775.0,749.9 773.4,750.5 771.9,751.2 770.3,751.9 768.8,752.6 767.4,753.4 766.0,754.2 764.6,755.1 763.3,756.0 762.0,757.0 760.8,758.1 759.5,759.3 758.3,760.7 757.1,762.1 756.0,763.6 754.9,765.1 753.8,766.5 752.9,767.9 752.0,769.2 751.2,770.3 750.6,771.3 750,772" stroke="#e31b23" stroke-width="32"/>
<polyline points="757.0,702.0 756.9,703.9 756.9,706.2 756.8,709.1 756.8,712.2 756.7,715.6 756.6,719.2 756.5,723.0 756.4,726.7 756.2,730.3 756.0,733.8 755.8,737.1 755.5,740.0 755.2,742.7 754.9,745.3 754.6,747.8 754.2,750.3 753.8,752.7 753.4,755.0 753.0,757.3 752.5,759.5 751.9,761.7 751.3,763.8 750.7,765.9 750.0,768.0 749.2,770.1 748.4,772.1 747.6,774.1 746.7,776.0 745.8,777.9 744.8,779.8 743.8,781.6 742.7,783.3 741.6,785.1 740.4,786.8 739.2,788.4 738.0,790.0 736.8,791.5 735.5,792.9 734.3,794.3 733.1,795.6 731.8,796.8 730.4,798.0 729.0,799.2 727.5,800.4 725.8,801.7 724.1,803.1 722.1,804.5 720.0,806.0 717.6,807.7 714.7,809.6 711.6,811.6 708.3,813.7 704.8,815.9 701.4,818.0 698.0,820.1 694.7,822.1 691.7,823.9 689.0,825.5 686.7,826.9 685,828" stroke="#fff" stroke-width="4.5" stroke-linecap="butt" stroke-dasharray="16 10"/>
<polyline points="685.0,828.0 682.2,829.9 678.6,832.2 674.4,835.0 669.7,838.1 664.6,841.5 659.2,845.1 653.6,848.7 648.1,852.4 642.6,856.1 637.3,859.6 632.4,863.0 628.0,866.0 623.9,868.8 620.0,871.5 616.3,874.2 612.7,876.7 609.2,879.3 605.8,881.8 602.3,884.2 599.0,886.7 595.6,889.2 592.1,891.7 588.6,894.3 585.0,897.0 581.3,899.8 577.5,902.6 573.6,905.5 569.7,908.4 565.8,911.3 561.9,914.2 558.1,917.2 554.3,920.1 550.5,922.9 546.9,925.7 543.4,928.4 540.0,931.0 536.7,933.5 533.5,935.9 530.4,938.2 527.3,940.5 524.3,942.7 521.4,944.9 518.6,947.1 515.9,949.3 513.3,951.4 510.7,953.6 508.3,955.8 506.0,958.0 503.8,960.2 501.9,962.2 500.0,964.1 498.3,966.0 496.7,967.9 495.2,969.9 493.7,971.9 492.2,974.1 490.7,976.4 489.2,979.0 487.7,981.8 486.0,985.0 484.3,988.6 482.6,992.5 481.0,996.8 479.3,1001.3 477.7,1006.1 476.0,1010.9 474.3,1015.7 472.6,1020.6 470.8,1025.3 468.9,1029.8 467.0,1034.1 465.0,1038.0 462.9,1041.6 460.6,1045.0 458.3,1048.3 455.9,1051.3 453.4,1054.3 450.9,1057.2 448.5,1060.0 446.0,1062.9 443.6,1065.8 441.3,1068.7 439.1,1071.8 437.0,1075.0 435.0,1078.3 433.0,1081.8 431.0,1085.3 429.1,1088.9 427.2,1092.5 425.4,1096.1 423.7,1099.7 422.0,1103.3 420.5,1106.9 419.2,1110.3 418.0,1113.7 417.0,1117.0 416.2,1120.1 415.5,1123.2 415.1,1126.1 414.7,1128.9 414.5,1131.7 414.4,1134.5 414.4,1137.3 414.5,1140.1 414.6,1142.9 414.7,1145.8 414.9,1148.9 415.0,1152.0 415.2,1155.2 415.5,1158.6 415.9,1162.0 416.4,1165.4 416.9,1168.9 417.4,1172.4 418.0,1176.0 418.5,1179.6 419.0,1183.2 419.4,1186.8 419.8,1190.4 420.0,1194.0 420.1,1197.7 420.2,1201.7 420.1,1205.9 420.1,1210.1 420.0,1214.4 419.8,1218.6 419.6,1222.7 419.5,1226.5 419.3,1230.0 419.2,1233.2 419.1,1235.9 419,1238" stroke="#fff" stroke-width="4.5" stroke-linecap="butt" stroke-dasharray="16 10"/>
<polyline points="419.0,1238.0 418.6,1239.9 418.1,1242.3 417.5,1245.1 416.8,1248.3 416.1,1251.7 415.3,1255.3 414.6,1259.1 413.9,1263.0 413.2,1266.9 412.7,1270.7 412.3,1274.4 412.0,1278.0 411.9,1281.4 411.8,1284.7 411.9,1288.0 412.0,1291.2 412.2,1294.5 412.4,1297.8 412.7,1301.2 413.1,1304.8 413.5,1308.5 414.0,1312.4 414.5,1316.6 415.0,1321.0 415.6,1325.8 416.2,1330.9 417.0,1336.3 417.7,1341.9 418.6,1347.7 419.4,1353.6 420.3,1359.6 421.3,1365.5 422.2,1371.4 423.1,1377.1 424.1,1382.7 425.0,1388.0 426.0,1393.1 427.1,1398.1 428.3,1403.0 429.5,1407.9 430.7,1412.7 431.9,1417.4 433.1,1422.0 434.2,1426.7 435.1,1431.3 436.0,1435.8 436.6,1440.4 437.0,1445.0 437.2,1449.6 437.1,1454.2 436.9,1458.9 436.5,1463.5 436.0,1468.1 435.4,1472.6 434.7,1477.1 434.1,1481.5 433.4,1485.8 432.9,1490.0 432.4,1494.1 432.0,1498.0 431.7,1501.7 431.5,1505.3 431.2,1508.6 431.0,1511.9 430.9,1515.0 430.7,1518.1 430.5,1521.2 430.4,1524.2 430.3,1527.3 430.2,1530.4 430.1,1533.7 430.0,1537.0 430.0,1540.4 430.0,1543.9 430.0,1547.4 430.1,1551.0 430.3,1554.5 430.4,1558.1 430.5,1561.7 430.5,1565.4 430.5,1569.0 430.4,1572.7 430.3,1576.3 430.0,1580.0 429.6,1583.7 429.1,1587.6 428.6,1591.5 427.9,1595.4 427.2,1599.4 426.5,1603.4 425.7,1607.3 425.0,1611.1 424.2,1614.8 423.4,1618.4 422.7,1621.8 422.0,1625.0 421.3,1628.0 420.5,1630.7 419.7,1633.3 418.9,1635.7 418.1,1638.1 417.2,1640.3 416.5,1642.5 415.8,1644.7 415.2,1646.9 414.6,1649.2 414.2,1651.5 414.0,1654.0 413.9,1656.6 413.9,1659.2 414.0,1661.8 414.1,1664.4 414.4,1667.1 414.8,1669.8 415.2,1672.5 415.6,1675.2 416.2,1677.9 416.7,1680.6 417.3,1683.3 418.0,1686.0 418.7,1688.7 419.6,1691.4 420.5,1694.1 421.5,1696.9 422.6,1699.6 423.7,1702.3 424.8,1705.0 425.9,1707.7 427.0,1710.4 428.1,1713.0 429.1,1715.5 430.0,1718.0 430.9,1720.5 431.7,1723.0 432.5,1725.5 433.2,1727.9 434.0,1730.4 434.7,1732.8 435.4,1735.1 436.1,1737.3 436.8,1739.4 437.5,1741.4 438.3,1743.3 439.0,1745.0 439.8,1746.6 440.6,1748.0 441.5,1749.3 442.3,1750.6 443.2,1751.7 444.1,1752.7 444.9,1753.6 445.7,1754.4 446.4,1755.2 447.0,1755.9 447.6,1756.5 448,1757" stroke="#e4fbe2" stroke-width="4.5" stroke-linecap="butt" stroke-dasharray="16 10"/>
<polyline points="780.0,748.0 779.1,748.4 778.0,748.9 776.6,749.5 775.1,750.1 773.5,750.8 771.8,751.6 770.0,752.4 768.2,753.2 766.5,754.1 764.9,755.0 763.3,756.0 762.0,757.0 760.8,758.1 759.5,759.3 758.3,760.7 757.1,762.1 756.0,763.6 754.9,765.1 753.8,766.5 752.9,767.9 752.0,769.2 751.2,770.3 750.6,771.3 750,772" stroke="#fff" stroke-width="4.5" stroke-linecap="butt" stroke-dasharray="16 10"/>
</g>
<circle cx="757" cy="702.5" r="12.5" fill="#fff"/><circle cx="757" cy="702.5" r="10.5" fill="url(#rdot)"/>
<circle cx="802.7" cy="742.6" r="12.5" fill="#fff"/><circle cx="802.7" cy="742.6" r="10.5" fill="url(#rdot)"/>
<circle cx="779.2" cy="748" r="18" fill="#fbd49a"/><text x="779.2" y="757.4" font-size="26.1" fill="#2a2018" text-anchor="middle">1</text>
<circle cx="734.4" cy="787.4" r="17.7" fill="#f0941f"/><text x="734.4" y="796.6" font-size="25.7" fill="#2a2018" text-anchor="middle">A</text>
<circle cx="684.8" cy="828.3" r="21.3" fill="#fbd49a"/><text x="684.8" y="839.4" font-size="30.9" fill="#2a2018" text-anchor="middle">2</text>
<circle cx="628" cy="866" r="17.7" fill="#1fa2dc"/><text x="628" y="875.2" font-size="25.7" fill="#1d3d6e" text-anchor="middle">B</text>
<circle cx="539.8" cy="929.7" r="22" fill="#fbd49a"/><text x="539.8" y="941.2" font-size="31.9" fill="#2a2018" text-anchor="middle">3</text>
<circle cx="466.7" cy="1035.5" r="19.5" fill="#fbd49a"/><text x="466.7" y="1045.7" font-size="28.3" fill="#2a2018" text-anchor="middle">4</text>
<circle cx="437" cy="1075" r="18" fill="#2fa66a"/><text x="437" y="1084.4" font-size="26.1" fill="#1f3d2a" text-anchor="middle">C</text>
<circle cx="417" cy="1117" r="22" fill="#fbd49a"/><text x="417" y="1128.5" font-size="31.9" fill="#2a2018" text-anchor="middle">5</text>
<circle cx="419.6" cy="1237" r="22" fill="#fbd49a"/><text x="419.6" y="1248.5" font-size="31.9" fill="#2a2018" text-anchor="middle">6</text>
<circle cx="425" cy="1388" r="21.5" fill="#fbd49a"/><text x="425" y="1399.2" font-size="31.2" fill="#2a2018" text-anchor="middle">7</text>
<circle cx="431" cy="1498" r="18" fill="#1fa2dc"/><text x="431" y="1507.4" font-size="26.1" fill="#1d3d6e" text-anchor="middle">D</text>
<circle cx="414" cy="1654.5" r="18" fill="#f0941f"/><text x="414" y="1663.9" font-size="26.1" fill="#2a2018" text-anchor="middle">E</text>
<circle cx="446" cy="1751" r="12.5" fill="#fff"/><circle cx="446" cy="1751" r="10.5" fill="url(#rdot)"/>
<circle cx="470" cy="1759.5" r="21.3" fill="#fbd49a"/><text x="470" y="1770.6" font-size="30.9" fill="#2a2018" text-anchor="middle">8</text>
<g transform="translate(665,807) scale(1.0)"><path d="M-17.5,-16.5 L0,-20.5 L17.5,-16.5 L17,2 Q14.5,12.5 0,20.5 Q-14.5,12.5 -17,2 Z" fill="#9fd2e8"/><path d="M-16.5,-15.6 L0,-19.5 L16.5,-15.6 L16,2 Q13.5,11.8 0,19.3 Q-13.5,11.8 -16,2 Z" fill="#0e85b5"/><rect x="-2.6" y="-11" width="5.2" height="20" fill="#e8fbff"/><rect x="-9.5" y="-3.8" width="19.5" height="5.6" fill="#e8fbff"/></g>
<g transform="translate(390.7,1228.5) scale(1.0)"><path d="M-17.5,-16.5 L0,-20.5 L17.5,-16.5 L17,2 Q14.5,12.5 0,20.5 Q-14.5,12.5 -17,2 Z" fill="#9fd2e8"/><path d="M-16.5,-15.6 L0,-19.5 L16.5,-15.6 L16,2 Q13.5,11.8 0,19.3 Q-13.5,11.8 -16,2 Z" fill="#0e85b5"/><rect x="-2.6" y="-11" width="5.2" height="20" fill="#e8fbff"/><rect x="-9.5" y="-3.8" width="19.5" height="5.6" fill="#e8fbff"/></g>
<g transform="translate(480.3,1728) scale(1.0)"><path d="M-17.5,-16.5 L0,-20.5 L17.5,-16.5 L17,2 Q14.5,12.5 0,20.5 Q-14.5,12.5 -17,2 Z" fill="#9fd2e8"/><path d="M-16.5,-15.6 L0,-19.5 L16.5,-15.6 L16,2 Q13.5,11.8 0,19.3 Q-13.5,11.8 -16,2 Z" fill="#0e85b5"/><rect x="-2.6" y="-11" width="5.2" height="20" fill="#e8fbff"/><rect x="-9.5" y="-3.8" width="19.5" height="5.6" fill="#e8fbff"/></g>
<g transform="translate(411.5,1011) scale(1.0)"><path d="M0,3.5 L2.5,3.5 L2.5,0 L8.2,0 L8.2,3.5 L17.4,3.5 L17.4,33 L12,33 L12,29 L6,29 L6,33 L0,33 Z" fill="#1a80b1" stroke="#a8dcef" stroke-width="0.8"/><path d="M18.2,12 L20.6,12 L20.6,8 L25.2,8 L25.2,12 L35.5,12 L35.5,33 L30,33 L30,29 L24.5,29 L24.5,33 L18.2,33 Z" fill="#1a80b1" stroke="#a8dcef" stroke-width="0.8"/><rect x="3.5" y="6.0" width="2.4" height="2.8" fill="#b9ecfb"/><rect x="7.1" y="6.0" width="2.4" height="2.8" fill="#b9ecfb"/><rect x="10.7" y="6.0" width="2.4" height="2.8" fill="#b9ecfb"/><rect x="3.5" y="9.9" width="2.4" height="2.8" fill="#b9ecfb"/><rect x="7.1" y="9.9" width="2.4" height="2.8" fill="#b9ecfb"/><rect x="10.7" y="9.9" width="2.4" height="2.8" fill="#b9ecfb"/><rect x="3.5" y="13.8" width="2.4" height="2.8" fill="#b9ecfb"/><rect x="7.1" y="13.8" width="2.4" height="2.8" fill="#b9ecfb"/><rect x="10.7" y="13.8" width="2.4" height="2.8" fill="#b9ecfb"/><rect x="3.5" y="17.7" width="2.4" height="2.8" fill="#b9ecfb"/><rect x="7.1" y="17.7" width="2.4" height="2.8" fill="#b9ecfb"/><rect x="10.7" y="17.7" width="2.4" height="2.8" fill="#b9ecfb"/><rect x="3.5" y="21.6" width="2.4" height="2.8" fill="#b9ecfb"/><rect x="7.1" y="21.6" width="2.4" height="2.8" fill="#b9ecfb"/><rect x="10.7" y="21.6" width="2.4" height="2.8" fill="#b9ecfb"/><rect x="21.5" y="14.5" width="2.6" height="2.8" fill="#b9ecfb"/><rect x="25.2" y="14.5" width="2.6" height="2.8" fill="#b9ecfb"/><rect x="28.9" y="14.5" width="2.6" height="2.8" fill="#b9ecfb"/><rect x="21.5" y="18.4" width="2.6" height="2.8" fill="#b9ecfb"/><rect x="25.2" y="18.4" width="2.6" height="2.8" fill="#b9ecfb"/><rect x="28.9" y="18.4" width="2.6" height="2.8" fill="#b9ecfb"/><rect x="21.5" y="22.3" width="2.6" height="2.8" fill="#b9ecfb"/><rect x="25.2" y="22.3" width="2.6" height="2.8" fill="#b9ecfb"/><rect x="28.9" y="22.3" width="2.6" height="2.8" fill="#b9ecfb"/></g>
<g transform="translate(514.3,1021.3)"><circle r="15.3" fill="#f2b3b3"/><circle r="14.5" fill="#c8242b"/><path d="M-11,-7.2 L14,-6 L13.5,-4.6 L7.6,-4.9 L3.6,5 L-5.8,5 Z" fill="#fff"/><path d="M-9.5,-3.2 L6.5,-3.2 M-8,0.9 L5,0.9" stroke="#c8242b" stroke-width="1.3"/><circle cx="-3.6" cy="7.6" r="1.9" fill="#fff"/><circle cx="2.4" cy="7.6" r="1.9" fill="#fff"/></g>
<g transform="translate(478.7,1120.2)"><circle r="15.3" fill="#f2b3b3"/><circle r="14.5" fill="#c8242b"/><path d="M-11,-7.2 L14,-6 L13.5,-4.6 L7.6,-4.9 L3.6,5 L-5.8,5 Z" fill="#fff"/><path d="M-9.5,-3.2 L6.5,-3.2 M-8,0.9 L5,0.9" stroke="#c8242b" stroke-width="1.3"/><circle cx="-3.6" cy="7.6" r="1.9" fill="#fff"/><circle cx="2.4" cy="7.6" r="1.9" fill="#fff"/></g>
<g transform="translate(955.6,176.4)"><path d="M0,66.4 L0,35.8 L14.8,29.3 L16.1,33.6 L26.6,28.4 L27.9,33.6 L37.5,28.4 L38.8,34.1 L48.4,29.3 L50.6,45.4 L53.3,45.4 L54.1,23.6 L62.4,22.7 L64.2,43.7 L66.8,44.1 L66.8,66.4 Z" fill="#f0931e" stroke="#fff1d0" stroke-width="1.5" stroke-linejoin="round"/><circle cx="41" cy="15.5" r="1.6" fill="#c8a070" stroke="#fff4dc" stroke-width="1.2"/><circle cx="44.5" cy="14" r="1.6" fill="#c8a070" stroke="#fff4dc" stroke-width="1.2"/><circle cx="48" cy="13.5" r="1.6" fill="#c8a070" stroke="#fff4dc" stroke-width="1.2"/><circle cx="51.5" cy="14.5" r="1.6" fill="#c8a070" stroke="#fff4dc" stroke-width="1.2"/><circle cx="55" cy="15.5" r="1.6" fill="#c8a070" stroke="#fff4dc" stroke-width="1.2"/><circle cx="58" cy="17" r="1.6" fill="#c8a070" stroke="#fff4dc" stroke-width="1.2"/><circle cx="61" cy="19.5" r="1.6" fill="#c8a070" stroke="#fff4dc" stroke-width="1.2"/><circle cx="44" cy="18" r="1.6" fill="#c8a070" stroke="#fff4dc" stroke-width="1.2"/><circle cx="47.5" cy="17.5" r="1.6" fill="#c8a070" stroke="#fff4dc" stroke-width="1.2"/><circle cx="51" cy="18.5" r="1.6" fill="#c8a070" stroke="#fff4dc" stroke-width="1.2"/><circle cx="54.5" cy="20" r="1.6" fill="#c8a070" stroke="#fff4dc" stroke-width="1.2"/><circle cx="57.5" cy="21" r="1.6" fill="#c8a070" stroke="#fff4dc" stroke-width="1.2"/><circle cx="42" cy="20.5" r="1.6" fill="#c8a070" stroke="#fff4dc" stroke-width="1.2"/><rect x="8.3" y="41.0" width="4" height="4.2" fill="#fff0b8"/><rect x="13.8" y="41.0" width="4" height="4.2" fill="#fff0b8"/><rect x="19.3" y="41.0" width="4" height="4.2" fill="#fff0b8"/><rect x="24.8" y="41.0" width="4" height="4.2" fill="#fff0b8"/><rect x="30.3" y="41.0" width="4" height="4.2" fill="#fff0b8"/><rect x="35.8" y="41.0" width="4" height="4.2" fill="#fff0b8"/><rect x="41.3" y="41.0" width="4" height="4.2" fill="#fff0b8"/><rect x="8.3" y="46.6" width="4" height="4.2" fill="#fff0b8"/><rect x="13.8" y="46.6" width="4" height="4.2" fill="#fff0b8"/><rect x="19.3" y="46.6" width="4" height="4.2" fill="#fff0b8"/><rect x="24.8" y="46.6" width="4" height="4.2" fill="#fff0b8"/><rect x="30.3" y="46.6" width="4" height="4.2" fill="#fff0b8"/><rect x="35.8" y="46.6" width="4" height="4.2" fill="#fff0b8"/><rect x="41.3" y="46.6" width="4" height="4.2" fill="#fff0b8"/><rect x="8.3" y="52.2" width="4" height="4.2" fill="#fff0b8"/><rect x="13.8" y="52.2" width="4" height="4.2" fill="#fff0b8"/><rect x="19.3" y="52.2" width="4" height="4.2" fill="#fff0b8"/><rect x="24.8" y="52.2" width="4" height="4.2" fill="#fff0b8"/><rect x="30.3" y="52.2" width="4" height="4.2" fill="#fff0b8"/><rect x="35.8" y="52.2" width="4" height="4.2" fill="#fff0b8"/><rect x="41.3" y="52.2" width="4" height="4.2" fill="#fff0b8"/><rect x="8.3" y="57.8" width="4" height="4.2" fill="#fff0b8"/><rect x="13.8" y="57.8" width="4" height="4.2" fill="#fff0b8"/><rect x="19.3" y="57.8" width="4" height="4.2" fill="#fff0b8"/><rect x="24.8" y="57.8" width="4" height="4.2" fill="#fff0b8"/><rect x="30.3" y="57.8" width="4" height="4.2" fill="#fff0b8"/><rect x="35.8" y="57.8" width="4" height="4.2" fill="#fff0b8"/><rect x="41.3" y="57.8" width="4" height="4.2" fill="#fff0b8"/></g>
<g transform="translate(400.7,800.0)"><path d="M0,66.4 L0,35.8 L14.8,29.3 L16.1,33.6 L26.6,28.4 L27.9,33.6 L37.5,28.4 L38.8,34.1 L48.4,29.3 L50.6,45.4 L53.3,45.4 L54.1,23.6 L62.4,22.7 L64.2,43.7 L66.8,44.1 L66.8,66.4 Z" fill="#f0931e" stroke="#fff1d0" stroke-width="1.5" stroke-linejoin="round"/><circle cx="41" cy="15.5" r="1.6" fill="#c8a070" stroke="#fff4dc" stroke-width="1.2"/><circle cx="44.5" cy="14" r="1.6" fill="#c8a070" stroke="#fff4dc" stroke-width="1.2"/><circle cx="48" cy="13.5" r="1.6" fill="#c8a070" stroke="#fff4dc" stroke-width="1.2"/><circle cx="51.5" cy="14.5" r="1.6" fill="#c8a070" stroke="#fff4dc" stroke-width="1.2"/><circle cx="55" cy="15.5" r="1.6" fill="#c8a070" stroke="#fff4dc" stroke-width="1.2"/><circle cx="58" cy="17" r="1.6" fill="#c8a070" stroke="#fff4dc" stroke-width="1.2"/><circle cx="61" cy="19.5" r="1.6" fill="#c8a070" stroke="#fff4dc" stroke-width="1.2"/><circle cx="44" cy="18" r="1.6" fill="#c8a070" stroke="#fff4dc" stroke-width="1.2"/><circle cx="47.5" cy="17.5" r="1.6" fill="#c8a070" stroke="#fff4dc" stroke-width="1.2"/><circle cx="51" cy="18.5" r="1.6" fill="#c8a070" stroke="#fff4dc" stroke-width="1.2"/><circle cx="54.5" cy="20" r="1.6" fill="#c8a070" stroke="#fff4dc" stroke-width="1.2"/><circle cx="57.5" cy="21" r="1.6" fill="#c8a070" stroke="#fff4dc" stroke-width="1.2"/><circle cx="42" cy="20.5" r="1.6" fill="#c8a070" stroke="#fff4dc" stroke-width="1.2"/><rect x="8.3" y="41.0" width="4" height="4.2" fill="#fff0b8"/><rect x="13.8" y="41.0" width="4" height="4.2" fill="#fff0b8"/><rect x="19.3" y="41.0" width="4" height="4.2" fill="#fff0b8"/><rect x="24.8" y="41.0" width="4" height="4.2" fill="#fff0b8"/><rect x="30.3" y="41.0" width="4" height="4.2" fill="#fff0b8"/><rect x="35.8" y="41.0" width="4" height="4.2" fill="#fff0b8"/><rect x="41.3" y="41.0" width="4" height="4.2" fill="#fff0b8"/><rect x="8.3" y="46.6" width="4" height="4.2" fill="#fff0b8"/><rect x="13.8" y="46.6" width="4" height="4.2" fill="#fff0b8"/><rect x="19.3" y="46.6" width="4" height="4.2" fill="#fff0b8"/><rect x="24.8" y="46.6" width="4" height="4.2" fill="#fff0b8"/><rect x="30.3" y="46.6" width="4" height="4.2" fill="#fff0b8"/><rect x="35.8" y="46.6" width="4" height="4.2" fill="#fff0b8"/><rect x="41.3" y="46.6" width="4" height="4.2" fill="#fff0b8"/><rect x="8.3" y="52.2" width="4" height="4.2" fill="#fff0b8"/><rect x="13.8" y="52.2" width="4" height="4.2" fill="#fff0b8"/><rect x="19.3" y="52.2" width="4" height="4.2" fill="#fff0b8"/><rect x="24.8" y="52.2" width="4" height="4.2" fill="#fff0b8"/><rect x="30.3" y="52.2" width="4" height="4.2" fill="#fff0b8"/><rect x="35.8" y="52.2" width="4" height="4.2" fill="#fff0b8"/><rect x="41.3" y="52.2" width="4" height="4.2" fill="#fff0b8"/><rect x="8.3" y="57.8" width="4" height="4.2" fill="#fff0b8"/><rect x="13.8" y="57.8" width="4" height="4.2" fill="#fff0b8"/><rect x="19.3" y="57.8" width="4" height="4.2" fill="#fff0b8"/><rect x="24.8" y="57.8" width="4" height="4.2" fill="#fff0b8"/><rect x="30.3" y="57.8" width="4" height="4.2" fill="#fff0b8"/><rect x="35.8" y="57.8" width="4" height="4.2" fill="#fff0b8"/><rect x="41.3" y="57.8" width="4" height="4.2" fill="#fff0b8"/></g>
<g transform="translate(866,913.1)"><path d="M0,66.4 L0,35.8 L14.8,29.3 L16.1,33.6 L26.6,28.4 L27.9,33.6 L37.5,28.4 L38.8,34.1 L48.4,29.3 L50.6,45.4 L53.3,45.4 L54.1,23.6 L62.4,22.7 L64.2,43.7 L66.8,44.1 L66.8,66.4 Z" fill="#f0931e" stroke="#fff1d0" stroke-width="1.5" stroke-linejoin="round"/><circle cx="41" cy="15.5" r="1.6" fill="#c8a070" stroke="#fff4dc" stroke-width="1.2"/><circle cx="44.5" cy="14" r="1.6" fill="#c8a070" stroke="#fff4dc" stroke-width="1.2"/><circle cx="48" cy="13.5" r="1.6" fill="#c8a070" stroke="#fff4dc" stroke-width="1.2"/><circle cx="51.5" cy="14.5" r="1.6" fill="#c8a070" stroke="#fff4dc" stroke-width="1.2"/><circle cx="55" cy="15.5" r="1.6" fill="#c8a070" stroke="#fff4dc" stroke-width="1.2"/><circle cx="58" cy="17" r="1.6" fill="#c8a070" stroke="#fff4dc" stroke-width="1.2"/><circle cx="61" cy="19.5" r="1.6" fill="#c8a070" stroke="#fff4dc" stroke-width="1.2"/><circle cx="44" cy="18" r="1.6" fill="#c8a070" stroke="#fff4dc" stroke-width="1.2"/><circle cx="47.5" cy="17.5" r="1.6" fill="#c8a070" stroke="#fff4dc" stroke-width="1.2"/><circle cx="51" cy="18.5" r="1.6" fill="#c8a070" stroke="#fff4dc" stroke-width="1.2"/><circle cx="54.5" cy="20" r="1.6" fill="#c8a070" stroke="#fff4dc" stroke-width="1.2"/><circle cx="57.5" cy="21" r="1.6" fill="#c8a070" stroke="#fff4dc" stroke-width="1.2"/><circle cx="42" cy="20.5" r="1.6" fill="#c8a070" stroke="#fff4dc" stroke-width="1.2"/><rect x="8.3" y="41.0" width="4" height="4.2" fill="#fff0b8"/><rect x="13.8" y="41.0" width="4" height="4.2" fill="#fff0b8"/><rect x="19.3" y="41.0" width="4" height="4.2" fill="#fff0b8"/><rect x="24.8" y="41.0" width="4" height="4.2" fill="#fff0b8"/><rect x="30.3" y="41.0" width="4" height="4.2" fill="#fff0b8"/><rect x="35.8" y="41.0" width="4" height="4.2" fill="#fff0b8"/><rect x="41.3" y="41.0" width="4" height="4.2" fill="#fff0b8"/><rect x="8.3" y="46.6" width="4" height="4.2" fill="#fff0b8"/><rect x="13.8" y="46.6" width="4" height="4.2" fill="#fff0b8"/><rect x="19.3" y="46.6" width="4" height="4.2" fill="#fff0b8"/><rect x="24.8" y="46.6" width="4" height="4.2" fill="#fff0b8"/><rect x="30.3" y="46.6" width="4" height="4.2" fill="#fff0b8"/><rect x="35.8" y="46.6" width="4" height="4.2" fill="#fff0b8"/><rect x="41.3" y="46.6" width="4" height="4.2" fill="#fff0b8"/><rect x="8.3" y="52.2" width="4" height="4.2" fill="#fff0b8"/><rect x="13.8" y="52.2" width="4" height="4.2" fill="#fff0b8"/><rect x="19.3" y="52.2" width="4" height="4.2" fill="#fff0b8"/><rect x="24.8" y="52.2" width="4" height="4.2" fill="#fff0b8"/><rect x="30.3" y="52.2" width="4" height="4.2" fill="#fff0b8"/><rect x="35.8" y="52.2" width="4" height="4.2" fill="#fff0b8"/><rect x="41.3" y="52.2" width="4" height="4.2" fill="#fff0b8"/><rect x="8.3" y="57.8" width="4" height="4.2" fill="#fff0b8"/><rect x="13.8" y="57.8" width="4" height="4.2" fill="#fff0b8"/><rect x="19.3" y="57.8" width="4" height="4.2" fill="#fff0b8"/><rect x="24.8" y="57.8" width="4" height="4.2" fill="#fff0b8"/><rect x="30.3" y="57.8" width="4" height="4.2" fill="#fff0b8"/><rect x="35.8" y="57.8" width="4" height="4.2" fill="#fff0b8"/><rect x="41.3" y="57.8" width="4" height="4.2" fill="#fff0b8"/></g>
<g transform="translate(1440.4,559.9)"><path d="M0,66.4 L0,35.8 L14.8,29.3 L16.1,33.6 L26.6,28.4 L27.9,33.6 L37.5,28.4 L38.8,34.1 L48.4,29.3 L50.6,45.4 L53.3,45.4 L54.1,23.6 L62.4,22.7 L64.2,43.7 L66.8,44.1 L66.8,66.4 Z" fill="#f0931e" stroke="#fff1d0" stroke-width="1.5" stroke-linejoin="round"/><circle cx="41" cy="15.5" r="1.6" fill="#c8a070" stroke="#fff4dc" stroke-width="1.2"/><circle cx="44.5" cy="14" r="1.6" fill="#c8a070" stroke="#fff4dc" stroke-width="1.2"/><circle cx="48" cy="13.5" r="1.6" fill="#c8a070" stroke="#fff4dc" stroke-width="1.2"/><circle cx="51.5" cy="14.5" r="1.6" fill="#c8a070" stroke="#fff4dc" stroke-width="1.2"/><circle cx="55" cy="15.5" r="1.6" fill="#c8a070" stroke="#fff4dc" stroke-width="1.2"/><circle cx="58" cy="17" r="1.6" fill="#c8a070" stroke="#fff4dc" stroke-width="1.2"/><circle cx="61" cy="19.5" r="1.6" fill="#c8a070" stroke="#fff4dc" stroke-width="1.2"/><circle cx="44" cy="18" r="1.6" fill="#c8a070" stroke="#fff4dc" stroke-width="1.2"/><circle cx="47.5" cy="17.5" r="1.6" fill="#c8a070" stroke="#fff4dc" stroke-width="1.2"/><circle cx="51" cy="18.5" r="1.6" fill="#c8a070" stroke="#fff4dc" stroke-width="1.2"/><circle cx="54.5" cy="20" r="1.6" fill="#c8a070" stroke="#fff4dc" stroke-width="1.2"/><circle cx="57.5" cy="21" r="1.6" fill="#c8a070" stroke="#fff4dc" stroke-width="1.2"/><circle cx="42" cy="20.5" r="1.6" fill="#c8a070" stroke="#fff4dc" stroke-width="1.2"/><rect x="8.3" y="41.0" width="4" height="4.2" fill="#fff0b8"/><rect x="13.8" y="41.0" width="4" height="4.2" fill="#fff0b8"/><rect x="19.3" y="41.0" width="4" height="4.2" fill="#fff0b8"/><rect x="24.8" y="41.0" width="4" height="4.2" fill="#fff0b8"/><rect x="30.3" y="41.0" width="4" height="4.2" fill="#fff0b8"/><rect x="35.8" y="41.0" width="4" height="4.2" fill="#fff0b8"/><rect x="41.3" y="41.0" width="4" height="4.2" fill="#fff0b8"/><rect x="8.3" y="46.6" width="4" height="4.2" fill="#fff0b8"/><rect x="13.8" y="46.6" width="4" height="4.2" fill="#fff0b8"/><rect x="19.3" y="46.6" width="4" height="4.2" fill="#fff0b8"/><rect x="24.8" y="46.6" width="4" height="4.2" fill="#fff0b8"/><rect x="30.3" y="46.6" width="4" height="4.2" fill="#fff0b8"/><rect x="35.8" y="46.6" width="4" height="4.2" fill="#fff0b8"/><rect x="41.3" y="46.6" width="4" height="4.2" fill="#fff0b8"/><rect x="8.3" y="52.2" width="4" height="4.2" fill="#fff0b8"/><rect x="13.8" y="52.2" width="4" height="4.2" fill="#fff0b8"/><rect x="19.3" y="52.2" width="4" height="4.2" fill="#fff0b8"/><rect x="24.8" y="52.2" width="4" height="4.2" fill="#fff0b8"/><rect x="30.3" y="52.2" width="4" height="4.2" fill="#fff0b8"/><rect x="35.8" y="52.2" width="4" height="4.2" fill="#fff0b8"/><rect x="41.3" y="52.2" width="4" height="4.2" fill="#fff0b8"/><rect x="8.3" y="57.8" width="4" height="4.2" fill="#fff0b8"/><rect x="13.8" y="57.8" width="4" height="4.2" fill="#fff0b8"/><rect x="19.3" y="57.8" width="4" height="4.2" fill="#fff0b8"/><rect x="24.8" y="57.8" width="4" height="4.2" fill="#fff0b8"/><rect x="30.3" y="57.8" width="4" height="4.2" fill="#fff0b8"/><rect x="35.8" y="57.8" width="4" height="4.2" fill="#fff0b8"/><rect x="41.3" y="57.8" width="4" height="4.2" fill="#fff0b8"/></g>
<g transform="translate(1518,542.4)"><path d="M0,66.4 L0,35.8 L14.8,29.3 L16.1,33.6 L26.6,28.4 L27.9,33.6 L37.5,28.4 L38.8,34.1 L48.4,29.3 L50.6,45.4 L53.3,45.4 L54.1,23.6 L62.4,22.7 L64.2,43.7 L66.8,44.1 L66.8,66.4 Z" fill="#f0931e" stroke="#fff1d0" stroke-width="1.5" stroke-linejoin="round"/><circle cx="41" cy="15.5" r="1.6" fill="#c8a070" stroke="#fff4dc" stroke-width="1.2"/><circle cx="44.5" cy="14" r="1.6" fill="#c8a070" stroke="#fff4dc" stroke-width="1.2"/><circle cx="48" cy="13.5" r="1.6" fill="#c8a070" stroke="#fff4dc" stroke-width="1.2"/><circle cx="51.5" cy="14.5" r="1.6" fill="#c8a070" stroke="#fff4dc" stroke-width="1.2"/><circle cx="55" cy="15.5" r="1.6" fill="#c8a070" stroke="#fff4dc" stroke-width="1.2"/><circle cx="58" cy="17" r="1.6" fill="#c8a070" stroke="#fff4dc" stroke-width="1.2"/><circle cx="61" cy="19.5" r="1.6" fill="#c8a070" stroke="#fff4dc" stroke-width="1.2"/><circle cx="44" cy="18" r="1.6" fill="#c8a070" stroke="#fff4dc" stroke-width="1.2"/><circle cx="47.5" cy="17.5" r="1.6" fill="#c8a070" stroke="#fff4dc" stroke-width="1.2"/><circle cx="51" cy="18.5" r="1.6" fill="#c8a070" stroke="#fff4dc" stroke-width="1.2"/><circle cx="54.5" cy="20" r="1.6" fill="#c8a070" stroke="#fff4dc" stroke-width="1.2"/><circle cx="57.5" cy="21" r="1.6" fill="#c8a070" stroke="#fff4dc" stroke-width="1.2"/><circle cx="42" cy="20.5" r="1.6" fill="#c8a070" stroke="#fff4dc" stroke-width="1.2"/><rect x="8.3" y="41.0" width="4" height="4.2" fill="#fff0b8"/><rect x="13.8" y="41.0" width="4" height="4.2" fill="#fff0b8"/><rect x="19.3" y="41.0" width="4" height="4.2" fill="#fff0b8"/><rect x="24.8" y="41.0" width="4" height="4.2" fill="#fff0b8"/><rect x="30.3" y="41.0" width="4" height="4.2" fill="#fff0b8"/><rect x="35.8" y="41.0" width="4" height="4.2" fill="#fff0b8"/><rect x="41.3" y="41.0" width="4" height="4.2" fill="#fff0b8"/><rect x="8.3" y="46.6" width="4" height="4.2" fill="#fff0b8"/><rect x="13.8" y="46.6" width="4" height="4.2" fill="#fff0b8"/><rect x="19.3" y="46.6" width="4" height="4.2" fill="#fff0b8"/><rect x="24.8" y="46.6" width="4" height="4.2" fill="#fff0b8"/><rect x="30.3" y="46.6" width="4" height="4.2" fill="#fff0b8"/><rect x="35.8" y="46.6" width="4" height="4.2" fill="#fff0b8"/><rect x="41.3" y="46.6" width="4" height="4.2" fill="#fff0b8"/><rect x="8.3" y="52.2" width="4" height="4.2" fill="#fff0b8"/><rect x="13.8" y="52.2" width="4" height="4.2" fill="#fff0b8"/><rect x="19.3" y="52.2" width="4" height="4.2" fill="#fff0b8"/><rect x="24.8" y="52.2" width="4" height="4.2" fill="#fff0b8"/><rect x="30.3" y="52.2" width="4" height="4.2" fill="#fff0b8"/><rect x="35.8" y="52.2" width="4" height="4.2" fill="#fff0b8"/><rect x="41.3" y="52.2" width="4" height="4.2" fill="#fff0b8"/><rect x="8.3" y="57.8" width="4" height="4.2" fill="#fff0b8"/><rect x="13.8" y="57.8" width="4" height="4.2" fill="#fff0b8"/><rect x="19.3" y="57.8" width="4" height="4.2" fill="#fff0b8"/><rect x="24.8" y="57.8" width="4" height="4.2" fill="#fff0b8"/><rect x="30.3" y="57.8" width="4" height="4.2" fill="#fff0b8"/><rect x="35.8" y="57.8" width="4" height="4.2" fill="#fff0b8"/><rect x="41.3" y="57.8" width="4" height="4.2" fill="#fff0b8"/></g>
<g transform="translate(1643.5,1003.4)"><path d="M0,66.4 L0,35.8 L14.8,29.3 L16.1,33.6 L26.6,28.4 L27.9,33.6 L37.5,28.4 L38.8,34.1 L48.4,29.3 L50.6,45.4 L53.3,45.4 L54.1,23.6 L62.4,22.7 L64.2,43.7 L66.8,44.1 L66.8,66.4 Z" fill="#f0931e" stroke="#fff1d0" stroke-width="1.5" stroke-linejoin="round"/><circle cx="41" cy="15.5" r="1.6" fill="#c8a070" stroke="#fff4dc" stroke-width="1.2"/><circle cx="44.5" cy="14" r="1.6" fill="#c8a070" stroke="#fff4dc" stroke-width="1.2"/><circle cx="48" cy="13.5" r="1.6" fill="#c8a070" stroke="#fff4dc" stroke-width="1.2"/><circle cx="51.5" cy="14.5" r="1.6" fill="#c8a070" stroke="#fff4dc" stroke-width="1.2"/><circle cx="55" cy="15.5" r="1.6" fill="#c8a070" stroke="#fff4dc" stroke-width="1.2"/><circle cx="58" cy="17" r="1.6" fill="#c8a070" stroke="#fff4dc" stroke-width="1.2"/><circle cx="61" cy="19.5" r="1.6" fill="#c8a070" stroke="#fff4dc" stroke-width="1.2"/><circle cx="44" cy="18" r="1.6" fill="#c8a070" stroke="#fff4dc" stroke-width="1.2"/><circle cx="47.5" cy="17.5" r="1.6" fill="#c8a070" stroke="#fff4dc" stroke-width="1.2"/><circle cx="51" cy="18.5" r="1.6" fill="#c8a070" stroke="#fff4dc" stroke-width="1.2"/><circle cx="54.5" cy="20" r="1.6" fill="#c8a070" stroke="#fff4dc" stroke-width="1.2"/><circle cx="57.5" cy="21" r="1.6" fill="#c8a070" stroke="#fff4dc" stroke-width="1.2"/><circle cx="42" cy="20.5" r="1.6" fill="#c8a070" stroke="#fff4dc" stroke-width="1.2"/><rect x="8.3" y="41.0" width="4" height="4.2" fill="#fff0b8"/><rect x="13.8" y="41.0" width="4" height="4.2" fill="#fff0b8"/><rect x="19.3" y="41.0" width="4" height="4.2" fill="#fff0b8"/><rect x="24.8" y="41.0" width="4" height="4.2" fill="#fff0b8"/><rect x="30.3" y="41.0" width="4" height="4.2" fill="#fff0b8"/><rect x="35.8" y="41.0" width="4" height="4.2" fill="#fff0b8"/><rect x="41.3" y="41.0" width="4" height="4.2" fill="#fff0b8"/><rect x="8.3" y="46.6" width="4" height="4.2" fill="#fff0b8"/><rect x="13.8" y="46.6" width="4" height="4.2" fill="#fff0b8"/><rect x="19.3" y="46.6" width="4" height="4.2" fill="#fff0b8"/><rect x="24.8" y="46.6" width="4" height="4.2" fill="#fff0b8"/><rect x="30.3" y="46.6" width="4" height="4.2" fill="#fff0b8"/><rect x="35.8" y="46.6" width="4" height="4.2" fill="#fff0b8"/><rect x="41.3" y="46.6" width="4" height="4.2" fill="#fff0b8"/><rect x="8.3" y="52.2" width="4" height="4.2" fill="#fff0b8"/><rect x="13.8" y="52.2" width="4" height="4.2" fill="#fff0b8"/><rect x="19.3" y="52.2" width="4" height="4.2" fill="#fff0b8"/><rect x="24.8" y="52.2" width="4" height="4.2" fill="#fff0b8"/><rect x="30.3" y="52.2" width="4" height="4.2" fill="#fff0b8"/><rect x="35.8" y="52.2" width="4" height="4.2" fill="#fff0b8"/><rect x="41.3" y="52.2" width="4" height="4.2" fill="#fff0b8"/><rect x="8.3" y="57.8" width="4" height="4.2" fill="#fff0b8"/><rect x="13.8" y="57.8" width="4" height="4.2" fill="#fff0b8"/><rect x="19.3" y="57.8" width="4" height="4.2" fill="#fff0b8"/><rect x="24.8" y="57.8" width="4" height="4.2" fill="#fff0b8"/><rect x="30.3" y="57.8" width="4" height="4.2" fill="#fff0b8"/><rect x="35.8" y="57.8" width="4" height="4.2" fill="#fff0b8"/><rect x="41.3" y="57.8" width="4" height="4.2" fill="#fff0b8"/></g>
<g transform="translate(598,1224) scale(1.0)"><path d="M-11.6,-6.2 L11.4,-5.6 L8,8.1 L-4.8,8.1 Z" fill="#0d72b8"/><path d="M-9,-6.2 L-9,-9 L-6.5,-9 L-6.5,-11 L6.5,-11 L6.5,-9 L9,-9 L9,-6.2 Z" fill="#0e5f8a"/><rect x="-1.5" y="-14.5" width="3.4" height="3.5" fill="#0e5f8a"/><path d="M-15.8,13 L-12,9.5 L-8,13 L-4,9.5 L0,13 L4,9.5 L8,13 L12,9.5 L15.8,13 M-15.8,16.5 L-12,13 L-8,16.5 L-4,13 L0,16.5 L4,13 L8,16.5 L12,13 L15.8,16.5" fill="none" stroke="#0e5f8a" stroke-width="2.6"/></g>
<g transform="translate(1559.7,1564) scale(1.05)"><path d="M-11.6,-6.2 L11.4,-5.6 L8,8.1 L-4.8,8.1 Z" fill="#0d72b8"/><path d="M-9,-6.2 L-9,-9 L-6.5,-9 L-6.5,-11 L6.5,-11 L6.5,-9 L9,-9 L9,-6.2 Z" fill="#0e5f8a"/><rect x="-1.5" y="-14.5" width="3.4" height="3.5" fill="#0e5f8a"/><path d="M-15.8,13 L-12,9.5 L-8,13 L-4,9.5 L0,13 L4,9.5 L8,13 L12,9.5 L15.8,13 M-15.8,16.5 L-12,13 L-8,16.5 L-4,13 L0,16.5 L4,13 L8,16.5 L12,13 L15.8,16.5" fill="none" stroke="#0e5f8a" stroke-width="2.6"/></g>
<g transform="translate(313.5,1407)"><path d="M0,-22.6 L22.6,0 L0,22.6 L-22.6,0 Z" fill="#12a04a" stroke="#12a04a" stroke-width="1.5" stroke-linejoin="round"/><path d="M0,-19.400000000000002 L19.400000000000002,0 L0,19.400000000000002 L-19.400000000000002,0 Z" fill="#12a04a" stroke="#b8ffd8" stroke-width="2.4" stroke-linejoin="round"/><path d="M-12.4,6.9 L-6.5,-3 Q3,-2.5 11.5,6.5 Z" fill="#fff"/><path d="M-9,-9 q3,-3 6,-1 q3,-3 6,0 M-4,-5 q3,-2 6,0" stroke="#fff" stroke-width="1.4" fill="none"/></g>
<g transform="translate(119.8,1450.5)"><path d="M0,-22.4 L22.4,0 L0,22.4 L-22.4,0 Z" fill="#ea5aa0" stroke="#ea5aa0" stroke-width="1.5" stroke-linejoin="round"/><path d="M0,-19.2 L19.2,0 L0,19.2 L-19.2,0 Z" fill="#ea5aa0" stroke="#ffd8ec" stroke-width="2.4" stroke-linejoin="round"/><path d="M-7,-12 L-2,-12 L-1,-9 L2,-9 L2.5,6 L-4,6 L-4,-6 L-7,-9 Z" fill="#fff"/><path d="M-8,6 L8,6 L10,9 L-10,9 Z" fill="#fff"/></g>
<g transform="translate(178.1,1482.9)"><path d="M0,-22.6 L22.6,0 L0,22.6 L-22.6,0 Z" fill="#27306e" stroke="#27306e" stroke-width="1.5" stroke-linejoin="round"/><path d="M0,-19.400000000000002 L19.400000000000002,0 L0,19.400000000000002 L-19.400000000000002,0 Z" fill="#fff" stroke="#fff" stroke-width="2.4" stroke-linejoin="round"/><path d="M-15,-2 L-7,-2 L-5,-9 L-2,-13 L0,-17 L0,-19 L-17,-2 Z" fill="#27306e"/><path d="M2,-10 L4,0 L6,-3 L15,-3 L2,-17 Z" fill="#27306e"/><path d="M-6,12 L6,12 L0,17 Z" fill="#27306e"/></g>
<g transform="translate(534,1520.7)"><path d="M0,-22.4 L22.4,0 L0,22.4 L-22.4,0 Z" fill="#7d4527" stroke="#7d4527" stroke-width="1.5" stroke-linejoin="round"/><path d="M0,-19.2 L19.2,0 L0,19.2 L-19.2,0 Z" fill="#7d4527" stroke="#fff3e6" stroke-width="2.4" stroke-linejoin="round"/><path d="M-11,7 L-7.5,-2 L0,-16 L4,-6 L11,8 Z" fill="#fff"/><path d="M-11,-6 L-11,6 M-7,4 L-2,-3 L0,-1 L3,-4" stroke="#7d4527" stroke-width="1.3" fill="none"/><path d="M-8,12 L8,12 L0,17 Z" fill="#7d4527"/></g>
<g transform="translate(562.9,1708.9)"><path d="M0,-22.6 L22.6,0 L0,22.6 L-22.6,0 Z" fill="#12a04a" stroke="#12a04a" stroke-width="1.5" stroke-linejoin="round"/><path d="M0,-19.400000000000002 L19.400000000000002,0 L0,19.400000000000002 L-19.400000000000002,0 Z" fill="#12a04a" stroke="#b8ffd8" stroke-width="2.4" stroke-linejoin="round"/><path d="M-12.4,6.9 L-6.5,-3 Q3,-2.5 11.5,6.5 Z" fill="#fff"/><path d="M-9,-9 q3,-3 6,-1 q3,-3 6,0 M-4,-5 q3,-2 6,0" stroke="#fff" stroke-width="1.4" fill="none"/></g>
<g transform="translate(610.5,1741.1)"><path d="M0,-22.4 L22.4,0 L0,22.4 L-22.4,0 Z" fill="#1ea6dc" stroke="#1ea6dc" stroke-width="1.5" stroke-linejoin="round"/><path d="M0,-19.2 L19.2,0 L0,19.2 L-19.2,0 Z" fill="#1ea6dc" stroke="#c8f6ff" stroke-width="2.4" stroke-linejoin="round"/><path d="M-8,-3 Q-4,-13 7,-9 Q3,-5 -8,-3 Z" fill="#e8f8ff"/><path d="M0,-6 L3,6" stroke="#e8f8ff" stroke-width="1.3"/><path d="M-13,6.5 L13,6.5 L8,12 L-8,12 Z" fill="#e8f8ff"/><path d="M-11,8.8 L11,8.8" stroke="#7fd0ef" stroke-width="0.9"/></g>
<g transform="translate(126.5,1824.5)"><path d="M0,-22.6 L22.6,0 L0,22.6 L-22.6,0 Z" fill="#12a04a" stroke="#12a04a" stroke-width="1.5" stroke-linejoin="round"/><path d="M0,-19.400000000000002 L19.400000000000002,0 L0,19.400000000000002 L-19.400000000000002,0 Z" fill="#12a04a" stroke="#b8ffd8" stroke-width="2.4" stroke-linejoin="round"/><path d="M-12.4,6.9 L-6.5,-3 Q3,-2.5 11.5,6.5 Z" fill="#fff"/><path d="M-9,-9 q3,-3 6,-1 q3,-3 6,0 M-4,-5 q3,-2 6,0" stroke="#fff" stroke-width="1.4" fill="none"/></g>
<g transform="translate(562.2,1883.3)"><path d="M0,-22.4 L22.4,0 L0,22.4 L-22.4,0 Z" fill="#7d4527" stroke="#7d4527" stroke-width="1.5" stroke-linejoin="round"/><path d="M0,-19.2 L19.2,0 L0,19.2 L-19.2,0 Z" fill="#7d4527" stroke="#fff3e6" stroke-width="2.4" stroke-linejoin="round"/><path d="M-11,7 L-7.5,-2 L0,-16 L4,-6 L11,8 Z" fill="#fff"/><path d="M-11,-6 L-11,6 M-7,4 L-2,-3 L0,-1 L3,-4" stroke="#7d4527" stroke-width="1.3" fill="none"/><path d="M-8,12 L8,12 L0,17 Z" fill="#7d4527"/></g>
<g transform="translate(556.5,1955.8)"><path d="M0,-22.4 L22.4,0 L0,22.4 L-22.4,0 Z" fill="#1ea6dc" stroke="#1ea6dc" stroke-width="1.5" stroke-linejoin="round"/><path d="M0,-19.2 L19.2,0 L0,19.2 L-19.2,0 Z" fill="#1ea6dc" stroke="#c8f6ff" stroke-width="2.4" stroke-linejoin="round"/><path d="M-8,-3 Q-4,-13 7,-9 Q3,-5 -8,-3 Z" fill="#e8f8ff"/><path d="M0,-6 L3,6" stroke="#e8f8ff" stroke-width="1.3"/><path d="M-13,6.5 L13,6.5 L8,12 L-8,12 Z" fill="#e8f8ff"/><path d="M-11,8.8 L11,8.8" stroke="#7fd0ef" stroke-width="0.9"/></g>
<g transform="translate(438.5,1995.6)"><path d="M0,-22.6 L22.6,0 L0,22.6 L-22.6,0 Z" fill="#27306e" stroke="#27306e" stroke-width="1.5" stroke-linejoin="round"/><path d="M0,-19.400000000000002 L19.400000000000002,0 L0,19.400000000000002 L-19.400000000000002,0 Z" fill="#fff" stroke="#fff" stroke-width="2.4" stroke-linejoin="round"/><path d="M-15,-2 L-7,-2 L-5,-9 L-2,-13 L0,-17 L0,-19 L-17,-2 Z" fill="#27306e"/><path d="M2,-10 L4,0 L6,-3 L15,-3 L2,-17 Z" fill="#27306e"/><path d="M-6,12 L6,12 L0,17 Z" fill="#27306e"/></g>
<path d="M269.6,155.4 L296.7,211.5 L268.4,200.6 L240,210.9 Z" fill="#8b807e"/>
<rect x="464.3" y="196.5" width="44.0" height="24" rx="6" fill="#fff" stroke="#2b2929" stroke-width="2.2"/><text x="486.3" y="215.0" font-size="18" fill="#222" text-anchor="middle">321</text>
<rect x="143.3" y="376.3" width="44.0" height="24" rx="6" fill="#fff" stroke="#2b2929" stroke-width="2.2"/><text x="165.3" y="394.8" font-size="18" fill="#222" text-anchor="middle">324</text>
<rect x="713.4" y="416.3" width="44.0" height="24" rx="6" fill="#fff" stroke="#2b2929" stroke-width="2.2"/><text x="735.4" y="434.8" font-size="18" fill="#222" text-anchor="middle">346</text>
<rect x="977.9" y="442.2" width="44.0" height="24" rx="6" fill="#fff" stroke="#2b2929" stroke-width="2.2"/><text x="999.9" y="460.7" font-size="18" fill="#222" text-anchor="middle">340</text>
<rect x="1206.0" y="371.2" width="44.0" height="24" rx="6" fill="#fff" stroke="#2b2929" stroke-width="2.2"/><text x="1228" y="389.7" font-size="18" fill="#222" text-anchor="middle">347</text>
<rect x="1270.5" y="288.0" width="25.0" height="24" rx="6" fill="#fff" stroke="#2b2929" stroke-width="2.2"/><text x="1283" y="306.5" font-size="18" fill="#222" text-anchor="middle">1</text>
<rect x="1149.7" y="497.7" width="44.0" height="24" rx="6" fill="#fff" stroke="#2b2929" stroke-width="2.2"/><text x="1171.7" y="516.2" font-size="18" fill="#222" text-anchor="middle">345</text>
<rect x="1057.0" y="511.5" width="82.0" height="24" rx="6" fill="#fff" stroke="#2b2929" stroke-width="2.2"/><text x="1098" y="530.0" font-size="18" fill="#222" text-anchor="middle">นบ.3021</text>
<rect x="1273.1" y="504.0" width="35.0" height="24" rx="6" fill="#fff" stroke="#2b2929" stroke-width="2.2"/><text x="1290.6" y="522.5" font-size="18" fill="#222" text-anchor="middle">31</text>
<rect x="1353.0" y="581.0" width="44.0" height="24" rx="6" fill="#fff" stroke="#2b2929" stroke-width="2.2"/><text x="1375" y="599.5" font-size="18" fill="#222" text-anchor="middle">304</text>
<rect x="1181.0" y="621.7" width="44.0" height="24" rx="6" fill="#fff" stroke="#2b2929" stroke-width="2.2"/><text x="1203" y="640.2" font-size="18" fill="#222" text-anchor="middle">302</text>
<rect x="1234.0" y="641.0" width="44.0" height="24" rx="6" fill="#fff" stroke="#2b2929" stroke-width="2.2"/><text x="1256" y="659.5" font-size="18" fill="#222" text-anchor="middle">351</text>
<rect x="350.7" y="610.7" width="44.0" height="24" rx="6" fill="#fff" stroke="#2b2929" stroke-width="2.2"/><text x="372.7" y="629.2" font-size="18" fill="#222" text-anchor="middle">323</text>
<rect x="653.2" y="674.7" width="25.0" height="24" rx="6" fill="#fff" stroke="#2b2929" stroke-width="2.2"/><text x="665.7" y="693.2" font-size="18" fill="#222" text-anchor="middle">4</text>
<rect x="947.0" y="705.0" width="44.0" height="24" rx="6" fill="#fff" stroke="#2b2929" stroke-width="2.2"/><text x="969" y="723.5" font-size="18" fill="#222" text-anchor="middle">338</text>
<rect x="1052.4" y="753.5" width="82.0" height="24" rx="6" fill="#fff" stroke="#2b2929" stroke-width="2.2"/><text x="1093.4" y="772.0" font-size="18" fill="#222" text-anchor="middle">นบ.3021</text>
<rect x="1199.5" y="698.0" width="25.0" height="24" rx="6" fill="#fff" stroke="#2b2929" stroke-width="2.2"/><text x="1212" y="716.5" font-size="18" fill="#222" text-anchor="middle">1</text>
<rect x="1636.4" y="694.6" width="44.0" height="24" rx="6" fill="#fff" stroke="#2b2929" stroke-width="2.2"/><text x="1658.4" y="713.1" font-size="18" fill="#222" text-anchor="middle">304</text>
<rect x="1212.3" y="765.8" width="25.0" height="24" rx="6" fill="#fff" stroke="#2b2929" stroke-width="2.2"/><text x="1224.8" y="784.3" font-size="18" fill="#222" text-anchor="middle">3</text>
<rect x="1069.3" y="793.0" width="25.0" height="24" rx="6" fill="#fff" stroke="#2b2929" stroke-width="2.2"/><text x="1081.8" y="811.5" font-size="18" fill="#222" text-anchor="middle">4</text>
<rect x="1028.5" y="825.5" width="25.0" height="24" rx="6" fill="#fff" stroke="#2b2929" stroke-width="2.2"/><text x="1041" y="844.0" font-size="18" fill="#222" text-anchor="middle">9</text>
<rect x="1117.0" y="825.5" width="44.0" height="24" rx="6" fill="#fff" stroke="#2b2929" stroke-width="2.2"/><text x="1139" y="844.0" font-size="18" fill="#222" text-anchor="middle">303</text>
<rect x="1063.9" y="854.5" width="35.0" height="24" rx="6" fill="#fff" stroke="#2b2929" stroke-width="2.2"/><text x="1081.4" y="873.0" font-size="18" fill="#222" text-anchor="middle">35</text>
<rect x="1370.2" y="828.0" width="25.0" height="24" rx="6" fill="#fff" stroke="#2b2929" stroke-width="2.2"/><text x="1382.7" y="846.5" font-size="18" fill="#222" text-anchor="middle">9</text>
<rect x="669.8" y="890.0" width="55.0" height="24" rx="6" fill="#fff" stroke="#2b2929" stroke-width="2.2"/><text x="697.3" y="908.5" font-size="18" fill="#222" text-anchor="middle">3097</text>
<rect x="1513.5" y="938.0" width="35.0" height="24" rx="6" fill="#fff" stroke="#2b2929" stroke-width="2.2"/><text x="1531" y="956.5" font-size="18" fill="#222" text-anchor="middle">34</text>
<rect x="754.5" y="1025.7" width="35.0" height="24" rx="6" fill="#fff" stroke="#2b2929" stroke-width="2.2"/><text x="772" y="1044.2" font-size="18" fill="#222" text-anchor="middle">35</text>
<rect x="1383.5" y="1032.0" width="25.0" height="24" rx="6" fill="#fff" stroke="#2b2929" stroke-width="2.2"/><text x="1396" y="1050.5" font-size="18" fill="#222" text-anchor="middle">3</text>
<rect x="343.5" y="1135.3" width="25.0" height="24" rx="6" fill="#fff" stroke="#2b2929" stroke-width="2.2"/><text x="356" y="1153.8" font-size="18" fill="#222" text-anchor="middle">4</text>
<rect x="452.5" y="1135.3" width="55.0" height="24" rx="6" fill="#fff" stroke="#2b2929" stroke-width="2.2"/><text x="480" y="1153.8" font-size="18" fill="#222" text-anchor="middle">3088</text>
<rect x="518.4" y="1132.0" width="44.0" height="24" rx="6" fill="#fff" stroke="#2b2929" stroke-width="2.2"/><text x="540.4" y="1150.5" font-size="18" fill="#222" text-anchor="middle">325</text>
<rect x="474.0" y="1789.0" width="25.0" height="24" rx="6" fill="#fff" stroke="#2b2929" stroke-width="2.2"/><text x="486.5" y="1807.5" font-size="18" fill="#222" text-anchor="middle">4</text>
<rect x="514.1" y="1962.7" width="25.0" height="24" rx="6" fill="#fff" stroke="#2b2929" stroke-width="2.2"/><text x="526.6" y="1981.2" font-size="18" fill="#222" text-anchor="middle">4</text>
<rect x="464.8" y="1977.5" width="35.0" height="24" rx="6" fill="#fff" stroke="#2b2929" stroke-width="2.2"/><text x="482.3" y="1996.0" font-size="18" fill="#222" text-anchor="middle">37</text>
<path d="M426,505 L447,505 L430,528 Z" fill="#2b2929"/>
<rect x="423" y="449" width="353" height="57" rx="11" fill="#fff" stroke="#2b2929" stroke-width="3"/>
<path d="M771,660 L796,660 L776.5,686 Z" fill="#e31b23"/><rect x="757" y="606" width="168" height="59" rx="9" fill="#e31b23" stroke="#f07a7a" stroke-width="1"/>
<path d="M866,754 L866,778 L821.5,753 Z" fill="#e31b23"/><rect x="865" y="751" width="169" height="58" rx="9" fill="#e31b23" stroke="#f07a7a" stroke-width="1"/>
<path d="M406,1780 L434.6,1780 L437.5,1765 Z" fill="#e31b23"/><rect x="292.7" y="1778" width="163.3" height="57" rx="9" fill="#e31b23" stroke="#f07a7a" stroke-width="1"/>
<rect x="694" y="1167" width="49" height="15.5" fill="#e8242a"/>
<rect x="694" y="1213" width="49" height="15.5" fill="#26399a"/>
<rect x="694" y="1256" width="49" height="15.5" fill="#3cb54a"/>
<circle cx="719" cy="1305" r="15.5" fill="#f0941f"/><text x="719" y="1312.6" font-size="21.0" fill="#2a2018" text-anchor="middle">A</text>
<circle cx="719" cy="1348" r="15.5" fill="#1fa2dc"/><text x="719" y="1355.6" font-size="21.0" fill="#1d3d6e" text-anchor="middle">B</text>
<circle cx="719" cy="1386.5" r="15.5" fill="#2fa66a"/><text x="719" y="1394.1" font-size="21.0" fill="#1f3d2a" text-anchor="middle">C</text>
<circle cx="719" cy="1428.5" r="15.5" fill="#1fa2dc"/><text x="719" y="1436.1" font-size="21.0" fill="#1d3d6e" text-anchor="middle">D</text>
<circle cx="719" cy="1468" r="15.5" fill="#f0941f"/><text x="719" y="1475.6" font-size="21.0" fill="#2a2018" text-anchor="middle">E</text>
<circle cx="719" cy="1513" r="15" fill="#fbd49a" stroke="#222" stroke-width="2.5"/>
<g transform="translate(722,1563) scale(1.0)"><path d="M-17.5,-16.5 L0,-20.5 L17.5,-16.5 L17,2 Q14.5,12.5 0,20.5 Q-14.5,12.5 -17,2 Z" fill="#9fd2e8"/><path d="M-16.5,-15.6 L0,-19.5 L16.5,-15.6 L16,2 Q13.5,11.8 0,19.3 Q-13.5,11.8 -16,2 Z" fill="#0e85b5"/><rect x="-2.6" y="-11" width="5.2" height="20" fill="#e8fbff"/><rect x="-9.5" y="-3.8" width="19.5" height="5.6" fill="#e8fbff"/></g>
<g transform="translate(704.5,1591) scale(1.04)"><path d="M0,3.5 L2.5,3.5 L2.5,0 L8.2,0 L8.2,3.5 L17.4,3.5 L17.4,33 L12,33 L12,29 L6,29 L6,33 L0,33 Z" fill="#1a80b1" stroke="#a8dcef" stroke-width="0.8"/><path d="M18.2,12 L20.6,12 L20.6,8 L25.2,8 L25.2,12 L35.5,12 L35.5,33 L30,33 L30,29 L24.5,29 L24.5,33 L18.2,33 Z" fill="#1a80b1" stroke="#a8dcef" stroke-width="0.8"/><rect x="3.5" y="6.0" width="2.4" height="2.8" fill="#b9ecfb"/><rect x="7.1" y="6.0" width="2.4" height="2.8" fill="#b9ecfb"/><rect x="10.7" y="6.0" width="2.4" height="2.8" fill="#b9ecfb"/><rect x="3.5" y="9.9" width="2.4" height="2.8" fill="#b9ecfb"/><rect x="7.1" y="9.9" width="2.4" height="2.8" fill="#b9ecfb"/><rect x="10.7" y="9.9" width="2.4" height="2.8" fill="#b9ecfb"/><rect x="3.5" y="13.8" width="2.4" height="2.8" fill="#b9ecfb"/><rect x="7.1" y="13.8" width="2.4" height="2.8" fill="#b9ecfb"/><rect x="10.7" y="13.8" width="2.4" height="2.8" fill="#b9ecfb"/><rect x="3.5" y="17.7" width="2.4" height="2.8" fill="#b9ecfb"/><rect x="7.1" y="17.7" width="2.4" height="2.8" fill="#b9ecfb"/><rect x="10.7" y="17.7" width="2.4" height="2.8" fill="#b9ecfb"/><rect x="3.5" y="21.6" width="2.4" height="2.8" fill="#b9ecfb"/><rect x="7.1" y="21.6" width="2.4" height="2.8" fill="#b9ecfb"/><rect x="10.7" y="21.6" width="2.4" height="2.8" fill="#b9ecfb"/><rect x="21.5" y="14.5" width="2.6" height="2.8" fill="#b9ecfb"/><rect x="25.2" y="14.5" width="2.6" height="2.8" fill="#b9ecfb"/><rect x="28.9" y="14.5" width="2.6" height="2.8" fill="#b9ecfb"/><rect x="21.5" y="18.4" width="2.6" height="2.8" fill="#b9ecfb"/><rect x="25.2" y="18.4" width="2.6" height="2.8" fill="#b9ecfb"/><rect x="28.9" y="18.4" width="2.6" height="2.8" fill="#b9ecfb"/><rect x="21.5" y="22.3" width="2.6" height="2.8" fill="#b9ecfb"/><rect x="25.2" y="22.3" width="2.6" height="2.8" fill="#b9ecfb"/><rect x="28.9" y="22.3" width="2.6" height="2.8" fill="#b9ecfb"/></g>
<text x="261.5" y="138.7" font-size="21.5" fill="#7c7372" font-weight="bold" textLength="16.5" lengthAdjust="spacingAndGlyphs">N</text>
<text x="428" y="474.6" font-size="21" fill="#2b2929" font-weight="normal" textLength="340.0" lengthAdjust="spacingAndGlyphs">ทางหลวงพิเศษ สายบางใหญ่ - กาญจนบุรี</text>
<text x="433" y="496.4" font-size="15" fill="#2b2929" font-weight="normal" textLength="328.0" lengthAdjust="spacingAndGlyphs">Bang Yai - Kanchanaburi Intercity Motorway</text>
<text x="839" y="626.8" font-size="16" fill="#fff" font-weight="bold" text-anchor="middle" textLength="86" lengthAdjust="spacingAndGlyphs">Start Point</text>
<text x="839" y="652.3" font-size="19" fill="#fff" font-weight="bold" text-anchor="middle" textLength="136" lengthAdjust="spacingAndGlyphs">จุดเริ่มต้นโครงการ</text>
<text x="947" y="772.8" font-size="16" fill="#fff" font-weight="bold" text-anchor="middle" textLength="86" lengthAdjust="spacingAndGlyphs">Start Point</text>
<text x="947" y="796.8" font-size="19" fill="#fff" font-weight="bold" text-anchor="middle" textLength="136" lengthAdjust="spacingAndGlyphs">จุดเริ่มต้นโครงการ</text>
<text x="375.7" y="1799.3" font-size="16" fill="#fff" font-weight="bold" text-anchor="middle" textLength="80" lengthAdjust="spacingAndGlyphs">End Point</text>
<text x="375.7" y="1825.8" font-size="19" fill="#fff" font-weight="bold" text-anchor="middle" textLength="136" lengthAdjust="spacingAndGlyphs">จุดสิ้นสุดโครงการ</text>
<text x="566.8" y="196.2" font-size="21" fill="#34327e" font-weight="normal" textLength="90.8" lengthAdjust="spacingAndGlyphs">สุพรรณบุรี</text>
<text x="566.8" y="218.8" font-size="16" fill="#34327e" font-weight="normal" textLength="90.8" lengthAdjust="spacingAndGlyphs">Suphan Buri</text>
<text x="961.6" y="129.6" font-size="21" fill="#34327e" font-weight="normal" textLength="151.9" lengthAdjust="spacingAndGlyphs">พระนครศรีอยุธยา</text>
<text x="963" y="148.8" font-size="16" fill="#34327e" font-weight="normal" textLength="194.0" lengthAdjust="spacingAndGlyphs">Phra Nakhon Si Ayutthaya</text>
<text x="247" y="408.6" font-size="21" fill="#34327e" font-weight="normal" textLength="88.0" lengthAdjust="spacingAndGlyphs">กาญจนบุรี</text>
<text x="239.6" y="424.4" font-size="16" fill="#34327e" font-weight="normal" textLength="102.2" lengthAdjust="spacingAndGlyphs">Kanchanaburi</text>
<text x="641" y="587.6" font-size="21" fill="#34327e" font-weight="normal" textLength="72.5" lengthAdjust="spacingAndGlyphs">นครปฐม</text>
<text x="615.7" y="604.8" font-size="16" fill="#34327e" font-weight="normal" textLength="118.8" lengthAdjust="spacingAndGlyphs">Nakhon Pathom</text>
<text x="1494.7" y="389.0" font-size="21" fill="#34327e" font-weight="normal" textLength="71.7" lengthAdjust="spacingAndGlyphs">ปทุมธานี</text>
<text x="1479" y="411.7" font-size="16" fill="#34327e" font-weight="normal" textLength="102.0" lengthAdjust="spacingAndGlyphs">Pathum Thani</text>
<text x="836.5" y="881.0" font-size="21" fill="#34327e" font-weight="normal" textLength="92.5" lengthAdjust="spacingAndGlyphs">สมุทรสาคร</text>
<text x="829" y="898.3" font-size="16" fill="#34327e" font-weight="normal" textLength="108.0" lengthAdjust="spacingAndGlyphs">Samut Sakhon</text>
<text x="1434" y="987.4" font-size="21" fill="#34327e" font-weight="normal" textLength="114.0" lengthAdjust="spacingAndGlyphs">สมุทรปราการ</text>
<text x="1434" y="1006.8" font-size="16" fill="#34327e" font-weight="normal" textLength="105.0" lengthAdjust="spacingAndGlyphs">Samut Prakan</text>
<text x="146.5" y="1108.6" font-size="21" fill="#34327e" font-weight="normal" textLength="54.5" lengthAdjust="spacingAndGlyphs">ราชบุรี</text>
<text x="128.6" y="1129.4" font-size="16" fill="#34327e" font-weight="normal" textLength="81.2" lengthAdjust="spacingAndGlyphs">Ratchaburi</text>
<text x="463" y="1187.1" font-size="21" fill="#34327e" font-weight="normal" textLength="114.0" lengthAdjust="spacingAndGlyphs">สมุทรสงคราม</text>
<text x="463" y="1207.3" font-size="16" fill="#34327e" font-weight="normal" textLength="139.4" lengthAdjust="spacingAndGlyphs">Samut Songkhram</text>
<text x="261" y="1557.2" font-size="21" fill="#34327e" font-weight="normal" textLength="65.0" lengthAdjust="spacingAndGlyphs">เพชรบุรี</text>
<text x="235" y="1576.8" font-size="16" fill="#34327e" font-weight="normal" textLength="89.3" lengthAdjust="spacingAndGlyphs">Phetchaburi</text>
<text x="756" y="389.0" font-size="18" fill="#433f3f" font-weight="normal" textLength="64.0" lengthAdjust="spacingAndGlyphs">อ.บางเลน</text>
<text x="751" y="400.8" font-size="10.5" fill="#6a6464" font-weight="normal" textLength="80.0" lengthAdjust="spacingAndGlyphs">Bang Len District</text>
<text x="984" y="402.0" font-size="18" fill="#433f3f" font-weight="normal" textLength="98.0" lengthAdjust="spacingAndGlyphs">อ.ลาดหลุมแก้ว</text>
<text x="984" y="415.8" font-size="10.5" fill="#6a6464" font-weight="normal" textLength="101.6" lengthAdjust="spacingAndGlyphs">Lat Lum Kaeo District</text>
<text x="897" y="452.5" font-size="18" fill="#433f3f" font-weight="normal" textLength="66.0" lengthAdjust="spacingAndGlyphs">อ.ไทรน้อย</text>
<text x="889" y="463.8" font-size="10.5" fill="#6a6464" font-weight="normal" textLength="74.0" lengthAdjust="spacingAndGlyphs">Sai Noi District</text>
<text x="1153" y="331.5" font-size="18" fill="#433f3f" font-weight="normal" textLength="65.0" lengthAdjust="spacingAndGlyphs">อ.สามโคก</text>
<text x="1147" y="341.8" font-size="10.5" fill="#6a6464" font-weight="normal" textLength="80.0" lengthAdjust="spacingAndGlyphs">Samkhok District</text>
<text x="713.5" y="528.5" font-size="18" fill="#433f3f" font-weight="normal" textLength="64.5" lengthAdjust="spacingAndGlyphs">อ.ดอนตูม</text>
<text x="708" y="545.3" font-size="10.5" fill="#6a6464" font-weight="normal" textLength="80.6" lengthAdjust="spacingAndGlyphs">Don Tum District</text>
<text x="457" y="416.0" font-size="18" fill="#433f3f" font-weight="normal" textLength="84.0" lengthAdjust="spacingAndGlyphs">อ.กำแพงแสน</text>
<text x="436" y="428.5" font-size="10.5" fill="#6a6464" font-weight="normal" textLength="119.0" lengthAdjust="spacingAndGlyphs">Kamphaeng Saen District</text>
<text x="231" y="505.5" font-size="18" fill="#433f3f" font-weight="normal" textLength="65.0" lengthAdjust="spacingAndGlyphs">อ.ท่ามะกา</text>
<text x="216.6" y="518.2" font-size="10.5" fill="#6a6464" font-weight="normal" textLength="81.2" lengthAdjust="spacingAndGlyphs">Tha Maka District</text>
<text x="345" y="675.0" font-size="18" fill="#433f3f" font-weight="normal" textLength="64.5" lengthAdjust="spacingAndGlyphs">อ.บ้านโป่ง</text>
<text x="334" y="687.8" font-size="10.5" fill="#6a6464" font-weight="normal" textLength="82.0" lengthAdjust="spacingAndGlyphs">Ban Pong District</text>
<text x="574" y="730.5" font-size="18" fill="#433f3f" font-weight="normal" textLength="104.6" lengthAdjust="spacingAndGlyphs">อ.เมืองนครปฐม</text>
<text x="528" y="743.8" font-size="10.5" fill="#6a6464" font-weight="normal" textLength="152.6" lengthAdjust="spacingAndGlyphs">Mueang Nakhon Pathom District</text>
<text x="499" y="818.5" font-size="18" fill="#433f3f" font-weight="normal" textLength="58.0" lengthAdjust="spacingAndGlyphs">อ.บางแพ</text>
<text x="499" y="828.8" font-size="10.5" fill="#6a6464" font-weight="normal" textLength="86.4" lengthAdjust="spacingAndGlyphs">Bang Phae District</text>
<text x="181" y="850.9" font-size="18" fill="#433f3f" font-weight="normal" textLength="76.0" lengthAdjust="spacingAndGlyphs">อ.โพธาราม</text>
<text x="179" y="865.8" font-size="10.5" fill="#6a6464" font-weight="normal" textLength="90.0" lengthAdjust="spacingAndGlyphs">Photharam District</text>
<text x="559" y="977.5" font-size="18" fill="#433f3f" font-weight="normal" textLength="101.0" lengthAdjust="spacingAndGlyphs">อ.ดำเนินสะดวก</text>
<text x="547.5" y="990.8" font-size="10.5" fill="#6a6464" font-weight="normal" textLength="119.8" lengthAdjust="spacingAndGlyphs">Damnoen Saduak District</text>
<text x="239.6" y="1058.0" font-size="18" fill="#433f3f" font-weight="normal" textLength="88.4" lengthAdjust="spacingAndGlyphs">อ.เมืองราชบุรี</text>
<text x="198" y="1071.6" font-size="10.5" fill="#6a6464" font-weight="normal" textLength="129.6" lengthAdjust="spacingAndGlyphs">Mueang Ratchaburi District</text>
<text x="492" y="1090.2" font-size="18" fill="#433f3f" font-weight="normal" textLength="70.0" lengthAdjust="spacingAndGlyphs">อ.บางคนที</text>
<text x="492" y="1101.1" font-size="10.5" fill="#6a6464" font-weight="normal" textLength="100.3" lengthAdjust="spacingAndGlyphs">Bang Khonthi District</text>
<text x="137" y="1226.5" font-size="18" fill="#433f3f" font-weight="normal" textLength="62.7" lengthAdjust="spacingAndGlyphs">อ.ปากท่อ</text>
<text x="128.6" y="1242.5" font-size="10.5" fill="#6a6464" font-weight="normal" textLength="77.2" lengthAdjust="spacingAndGlyphs">Pak Tho District</text>
<text x="453.5" y="1251.9" font-size="18" fill="#433f3f" font-weight="normal" textLength="64.3" lengthAdjust="spacingAndGlyphs">อ.อัมพวา</text>
<text x="451.8" y="1264.5" font-size="10.5" fill="#6a6464" font-weight="normal" textLength="84.6" lengthAdjust="spacingAndGlyphs">Amphawa District</text>
<text x="855.5" y="1034.0" font-size="18" fill="#433f3f" font-weight="normal" textLength="120.1" lengthAdjust="spacingAndGlyphs">อ.เมืองสมุทรสาคร</text>
<text x="844.6" y="1047.5" font-size="10.5" fill="#6a6464" font-weight="normal" textLength="146.4" lengthAdjust="spacingAndGlyphs">Mueang Samut Sakhon District</text>
<text x="828" y="688.5" font-size="18" fill="#433f3f" font-weight="normal" textLength="81.0" lengthAdjust="spacingAndGlyphs">อ.นครชัยศรี</text>
<text x="811.4" y="702.8" font-size="10.5" fill="#6a6464" font-weight="normal" textLength="109.6" lengthAdjust="spacingAndGlyphs">Nakhon Chai Si District</text>
<text x="771" y="826.5" font-size="18" fill="#433f3f" font-weight="normal" textLength="82.0" lengthAdjust="spacingAndGlyphs">อ.สามพราน</text>
<text x="768" y="841.8" font-size="10.5" fill="#6a6464" font-weight="normal" textLength="89.0" lengthAdjust="spacingAndGlyphs">Sam Phran District</text>
<text x="743.8" y="934.5" font-size="18" fill="#433f3f" font-weight="normal" textLength="70.9" lengthAdjust="spacingAndGlyphs">อ.บ้านแพ้ว</text>
<text x="738" y="946.8" font-size="10.5" fill="#6a6464" font-weight="normal" textLength="80.0" lengthAdjust="spacingAndGlyphs">Ban Phaeo District</text>
<text x="1060" y="687.5" font-size="18" fill="#433f3f" font-weight="normal" textLength="77.0" lengthAdjust="spacingAndGlyphs">อ.บางกรวย</text>
<text x="1061.7" y="699.4" font-size="10.5" fill="#6a6464" font-weight="normal" textLength="88.3" lengthAdjust="spacingAndGlyphs">Bang Kruai District</text>
<text x="265" y="1341.5" font-size="18" fill="#433f3f" font-weight="normal" textLength="64.0" lengthAdjust="spacingAndGlyphs">อ.เขาย้อย</text>
<text x="256.5" y="1355.3" font-size="10.5" fill="#6a6464" font-weight="normal" textLength="77.5" lengthAdjust="spacingAndGlyphs">Khao Yoi District</text>
<text x="244.7" y="1642.5" font-size="18" fill="#433f3f" font-weight="normal" textLength="69.8" lengthAdjust="spacingAndGlyphs">อ.บ้านลาด</text>
<text x="243.7" y="1654.5" font-size="10.5" fill="#6a6464" font-weight="normal" textLength="71.8" lengthAdjust="spacingAndGlyphs">Ban Lat District</text>
<text x="514.6" y="1454.1" font-size="18" fill="#433f3f" font-weight="normal" textLength="79.2" lengthAdjust="spacingAndGlyphs">อ.บ้านแหลม</text>
<text x="512" y="1466.8" font-size="10.5" fill="#6a6464" font-weight="normal" textLength="84.5" lengthAdjust="spacingAndGlyphs">Ban Laem District</text>
<text x="513.5" y="1587.8" font-size="18" fill="#433f3f" font-weight="normal" textLength="98.3" lengthAdjust="spacingAndGlyphs">อ.เมืองเพชรบุรี</text>
<text x="513.5" y="1601.5" font-size="10.5" fill="#6a6464" font-weight="normal" textLength="136.0" lengthAdjust="spacingAndGlyphs">Mueang Phetchaburi District</text>
<text x="269.6" y="1893.5" font-size="18" fill="#433f3f" font-weight="normal" textLength="56.4" lengthAdjust="spacingAndGlyphs">อ.ท่ายาง</text>
<text x="257" y="1906.8" font-size="10.5" fill="#6a6464" font-weight="normal" textLength="79.0" lengthAdjust="spacingAndGlyphs">Tha Yang District</text>
<text x="414" y="1916.5" font-size="18" fill="#433f3f" font-weight="normal" textLength="46.5" lengthAdjust="spacingAndGlyphs">อ.ชะอำ</text>
<text x="392.7" y="1927.4" font-size="10.5" fill="#6a6464" font-weight="normal" textLength="74.0" lengthAdjust="spacingAndGlyphs">Cha Am District</text>
<text x="1033" y="223.8" font-size="20" fill="#433f3f" font-weight="normal" textLength="221.5" lengthAdjust="spacingAndGlyphs">นิคมอุตสาหกรรมบางปะอิน</text>
<text x="1046" y="243.4" font-size="15" fill="#433f3f" font-weight="normal" textLength="208.5" lengthAdjust="spacingAndGlyphs">Bang Pa-in Industrial Estate</text>
<text x="232" y="795.8" font-size="20" fill="#433f3f" font-weight="normal" textLength="199.5" lengthAdjust="spacingAndGlyphs">นิคมอุตสาหกรรมราชบุรี</text>
<text x="224" y="815.4" font-size="15" fill="#433f3f" font-weight="normal" textLength="207.5" lengthAdjust="spacingAndGlyphs">Ratchaburi Industrial Estate</text>
<text x="1598" y="574.0" font-size="20" fill="#433f3f" font-weight="normal" textLength="231.0" lengthAdjust="spacingAndGlyphs">นิคมอุตสาหกรรมลาดกระบัง</text>
<text x="1665" y="593.2" font-size="15" fill="#433f3f" font-weight="normal" textLength="95.6" lengthAdjust="spacingAndGlyphs">Lat Krabang,</text>
<text x="1615" y="612.4" font-size="15" fill="#433f3f" font-weight="normal" textLength="196.0" lengthAdjust="spacingAndGlyphs">Bangkok industrial estates</text>
<text x="1367" y="651.0" font-size="20" fill="#433f3f" font-weight="normal" textLength="199.4" lengthAdjust="spacingAndGlyphs">นิคมอุตสาหกรรมบางชัน</text>
<text x="1360" y="671.9" font-size="15" fill="#433f3f" font-weight="normal" textLength="206.4" lengthAdjust="spacingAndGlyphs">Bang Chan industrial Estate</text>
<text x="946.8" y="960.7" font-size="20" fill="#433f3f" font-weight="normal" textLength="238.7" lengthAdjust="spacingAndGlyphs">นิคมอุตสาหกรรมสมุทรสาคร</text>
<text x="946.8" y="982.4" font-size="15" fill="#433f3f" font-weight="normal" textLength="235.7" lengthAdjust="spacingAndGlyphs">Samut Sakhon Industrial Estate</text>
<text x="1508.8" y="1098.6" font-size="20" fill="#433f3f" font-weight="normal" textLength="204.6" lengthAdjust="spacingAndGlyphs">นิคมอุตสาหกรรมบางพลี</text>
<text x="1511.8" y="1120.9" font-size="15" fill="#433f3f" font-weight="normal" textLength="194.2" lengthAdjust="spacingAndGlyphs">Bangplee Industrial Estate</text>
<text x="539" y="1027.0" font-size="19" fill="#433f3f" font-weight="normal" textLength="142.9" lengthAdjust="spacingAndGlyphs">ตลาดน้ำดำเนินสะดวก</text>
<text x="498.5" y="1124.8" font-size="19" fill="#433f3f" font-weight="normal" textLength="106.3" lengthAdjust="spacingAndGlyphs">ตลาดน้ำอัมพวา</text>
<text x="563" y="1258.8" font-size="19" fill="#433f3f" font-weight="normal" textLength="115.7" lengthAdjust="spacingAndGlyphs">ท่าเทียบเรือประมง</text>
<text x="563" y="1279.8" font-size="19" fill="#433f3f" font-weight="normal" textLength="83.0" lengthAdjust="spacingAndGlyphs">บ้านปากมาบ</text>
<text x="563" y="1291.8" font-size="10.5" fill="#6a6464" font-weight="normal" textLength="121.0" lengthAdjust="spacingAndGlyphs">Ban Pak Map Fishing Pier</text>
<text x="1484.6" y="1604.1" font-size="19" fill="#433f3f" font-weight="normal" textLength="105.4" lengthAdjust="spacingAndGlyphs">ท่าเรือแหลมฉบัง</text>
<text x="1497.6" y="1619.8" font-size="10.5" fill="#6a6464" font-weight="normal" textLength="91.2" lengthAdjust="spacingAndGlyphs">Leamchabang Port</text>
<text x="159" y="1389.3" font-size="19" fill="#433f3f" font-weight="normal" textLength="128.0" lengthAdjust="spacingAndGlyphs">สวนรุกขชาติ 100 ปี</text>
<text x="159" y="1410.8" font-size="19" fill="#433f3f" font-weight="normal" textLength="128.0" lengthAdjust="spacingAndGlyphs">กรมป่าไม้ (ทุ่งขนาย)</text>
<text x="142.5" y="1447.3" font-size="19" fill="#433f3f" font-weight="normal" textLength="115.0" lengthAdjust="spacingAndGlyphs">น้ำตกแม่กระดังลา</text>
<text x="197.5" y="1511.2" font-size="19" fill="#433f3f" font-weight="normal" textLength="129.5" lengthAdjust="spacingAndGlyphs">อ่างเก็บน้ำห้วยเกษม</text>
<text x="562.7" y="1514.4" font-size="19" fill="#433f3f" font-weight="normal" textLength="121.1" lengthAdjust="spacingAndGlyphs">พระรามราชนิเวศน์</text>
<text x="562.7" y="1532.4" font-size="19" fill="#433f3f" font-weight="normal" textLength="73.1" lengthAdjust="spacingAndGlyphs">(วังบ้านปืน)</text>
<text x="484.6" y="1663.5" font-size="19" fill="#433f3f" font-weight="normal" textLength="121.2" lengthAdjust="spacingAndGlyphs">อุทยานสิ่งแวดล้อม</text>
<text x="484.6" y="1682.6" font-size="19" fill="#433f3f" font-weight="normal" textLength="110.3" lengthAdjust="spacingAndGlyphs">นานาชาติสิรินธร</text>
<text x="540.8" y="1780.8" font-size="19" fill="#433f3f" font-weight="normal" textLength="81.9" lengthAdjust="spacingAndGlyphs">หาดปึกเตียน</text>
<text x="97" y="1777.3" font-size="19" fill="#433f3f" font-weight="normal" textLength="176.4" lengthAdjust="spacingAndGlyphs">โครงการพัฒนาสวนป่ายาง</text>
<text x="97" y="1794.8" font-size="19" fill="#433f3f" font-weight="normal" textLength="105.0" lengthAdjust="spacingAndGlyphs">น้ำกลัดเหนือ-ใต้</text>
<text x="591" y="1880.2" font-size="19" fill="#433f3f" font-weight="normal" textLength="143.0" lengthAdjust="spacingAndGlyphs">พระบรมราชานุสาวรีย์</text>
<text x="591" y="1898.2" font-size="19" fill="#433f3f" font-weight="normal" textLength="173.6" lengthAdjust="spacingAndGlyphs">สมเด็จพระนเรศวรมหาราช</text>
<text x="588.3" y="1960.8" font-size="19" fill="#433f3f" font-weight="normal" textLength="87.4" lengthAdjust="spacingAndGlyphs">ชายหาดชะอำ</text>
<text x="335" y="1991.8" font-size="19" fill="#433f3f" font-weight="normal" textLength="71.5" lengthAdjust="spacingAndGlyphs">อ่างเก็บน้ำ</text>
<text x="335" y="2009.5" font-size="19" fill="#433f3f" font-weight="normal" textLength="71.5" lengthAdjust="spacingAndGlyphs">ห้วยตะแปด</text>
<text x="751" y="1179.7" font-size="13" fill="#3a3636" font-weight="normal" textLength="246.5" lengthAdjust="spacingAndGlyphs">Section 1 (Nakhon Chai Si - Chinda Market)</text>
<text x="751" y="1195.7" font-size="13" fill="#3a3636" font-weight="normal" textLength="157.0" lengthAdjust="spacingAndGlyphs">ช่วงที่ 1 นครปฐม - ตลาดจินดา</text>
<text x="751" y="1224.7" font-size="13" fill="#3a3636" font-weight="normal" textLength="205.0" lengthAdjust="spacingAndGlyphs">Section 2 (Chinda Market - Pak Tho)</text>
<text x="751" y="1240.7" font-size="13" fill="#3a3636" font-weight="normal" textLength="150.4" lengthAdjust="spacingAndGlyphs">ช่วงที่ 2 ตลาดจินดา - ปากท่อ</text>
<text x="751" y="1268.7" font-size="13" fill="#3a3636" font-weight="normal" textLength="167.9" lengthAdjust="spacingAndGlyphs">Section 3 (Pak Tho - Cha-am)</text>
<text x="751" y="1284.7" font-size="13" fill="#3a3636" font-weight="normal" textLength="115.5" lengthAdjust="spacingAndGlyphs">ช่วงที่ 3 ปากท่อ - ชะอำ</text>
<text x="751" y="1308.7" font-size="13" fill="#3a3636" font-weight="normal" textLength="165.7" lengthAdjust="spacingAndGlyphs">Service Area: Nakhon Chai Si</text>
<text x="751" y="1325.7" font-size="13" fill="#3a3636" font-weight="normal" textLength="183.0" lengthAdjust="spacingAndGlyphs">สถานที่บริการทางหลวง : นครชัยศรี</text>
<text x="751" y="1349.2" font-size="13" fill="#3a3636" font-weight="normal" textLength="124.0" lengthAdjust="spacingAndGlyphs">Rest Stop: Bang Phae</text>
<text x="751" y="1365.7" font-size="13" fill="#3a3636" font-weight="normal" textLength="91.4" lengthAdjust="spacingAndGlyphs">จุดพักรถ : บางแพ</text>
<text x="751" y="1388.7" font-size="13" fill="#3a3636" font-weight="normal" textLength="139.5" lengthAdjust="spacingAndGlyphs">Service Area: Ratchaburi</text>
<text x="751" y="1404.7" font-size="13" fill="#3a3636" font-weight="normal" textLength="151.0" lengthAdjust="spacingAndGlyphs">ศูนย์บริการทางหลวง : ราชบุรี</text>
<text x="751" y="1427.7" font-size="13" fill="#3a3636" font-weight="normal" textLength="113.0" lengthAdjust="spacingAndGlyphs">Rest Stop: Khao Yoi</text>
<text x="751" y="1444.2" font-size="13" fill="#3a3636" font-weight="normal" textLength="95.5" lengthAdjust="spacingAndGlyphs">จุดพักรถ : เขาย้อย</text>
<text x="751" y="1467.7" font-size="13" fill="#3a3636" font-weight="normal" textLength="121.0" lengthAdjust="spacingAndGlyphs">Service Area: Ban Lat</text>
<text x="751" y="1483.7" font-size="13" fill="#3a3636" font-weight="normal" textLength="174.0" lengthAdjust="spacingAndGlyphs">สถานที่บริการทางหลวง : บ้านลาด</text>
<text x="751" y="1508.7" font-size="13" fill="#3a3636" font-weight="normal" textLength="76.0" lengthAdjust="spacingAndGlyphs">Entrance/Exit</text>
<text x="751" y="1524.7" font-size="13" fill="#3a3636" font-weight="normal" textLength="111.0" lengthAdjust="spacingAndGlyphs">จุดเข้า - ออกโครงการ</text>
<text x="751" y="1557.7" font-size="13" fill="#3a3636" font-weight="normal" textLength="68.0" lengthAdjust="spacingAndGlyphs">Rescue Unit</text>
<text x="751" y="1573.7" font-size="13" fill="#3a3636" font-weight="normal" textLength="58.4" lengthAdjust="spacingAndGlyphs">อาคารกู้ภัย</text>
<text x="751" y="1606.7" font-size="13" fill="#3a3636" font-weight="normal" textLength="277.8" lengthAdjust="spacingAndGlyphs">Control Center Building (CCB) / Regulating Buildi</text>
<text x="751" y="1629.7" font-size="13" fill="#3a3636" font-weight="normal" textLength="178.5" lengthAdjust="spacingAndGlyphs">/ O&amp;M Center / Staff Residence</text>
<text x="751" y="1652.7" font-size="13" fill="#3a3636" font-weight="normal" textLength="130.4" lengthAdjust="spacingAndGlyphs">Highway Police Station</text>
<text x="751" y="1674.7" font-size="13" fill="#3a3636" font-weight="normal" textLength="262.0" lengthAdjust="spacingAndGlyphs">ศูนย์ควบคุมการจราจรกลาง (CCB) / O&amp;M Center</text>
<text x="751" y="1697.7" font-size="13" fill="#3a3636" font-weight="normal" textLength="249.4" lengthAdjust="spacingAndGlyphs">อาคารกำกับดูแลของรัฐ / อาคารที่พักบุคลากรรัฐ</text>
<text x="751" y="1719.7" font-size="13" fill="#3a3636" font-weight="normal" textLength="113.0" lengthAdjust="spacingAndGlyphs">สถานีตำรวจทางหลวง</text>
<rect x="0" y="2043.3" width="1861" height="1.4" fill="#bdb9b8"/><rect x="0" y="2044.6" width="1861" height="3.4" fill="#fcfcfa"/>
</svg></body></html>
